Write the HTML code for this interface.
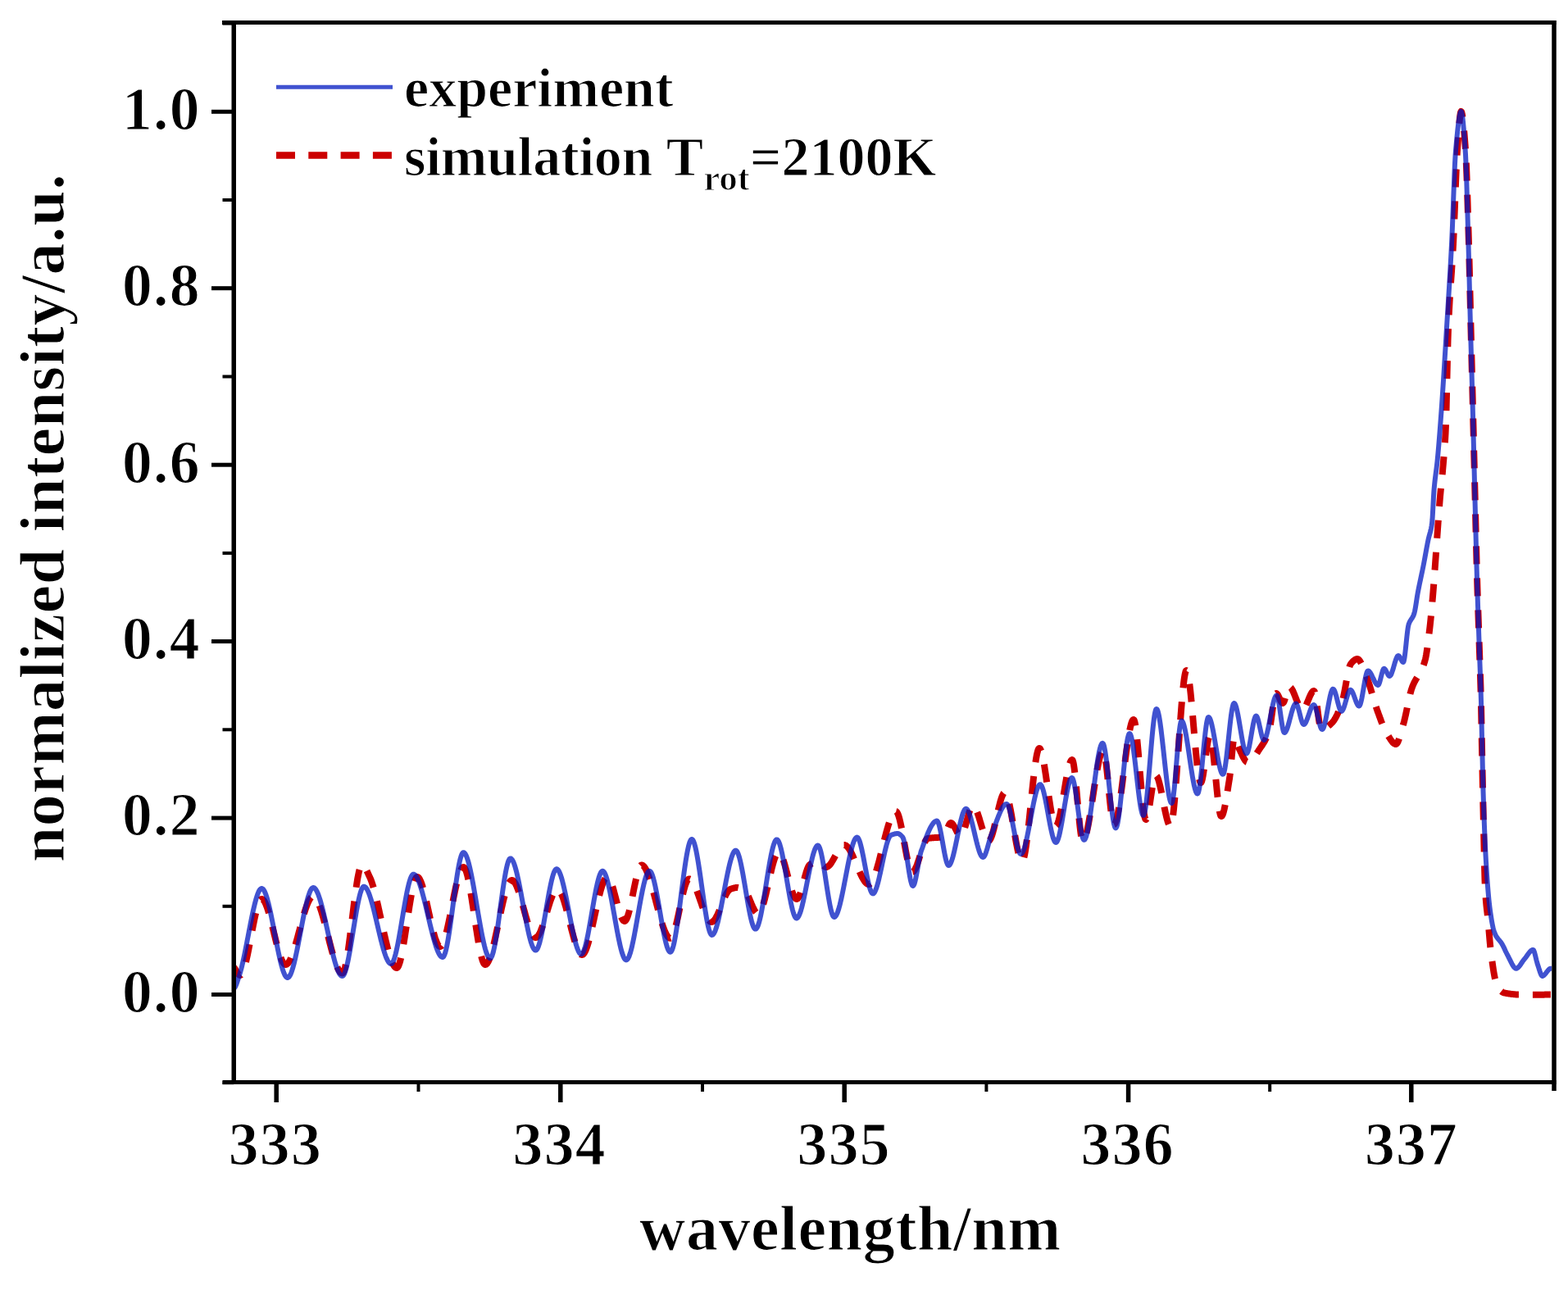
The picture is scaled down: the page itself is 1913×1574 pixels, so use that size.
<!DOCTYPE html>
<html><head><meta charset="utf-8"><title>normalized intensity vs wavelength</title>
<style>
html,body{margin:0;padding:0;background:#fff;}
body{width:1913px;height:1574px;overflow:hidden;}
svg{display:block;}
text{font-family:"Liberation Serif","Times New Roman",serif;font-weight:bold;fill:#000;stroke:#fff;stroke-width:1.2px;}
.tk{font-size:73.5px;letter-spacing:1.3px;}
.lab{font-size:78px;letter-spacing:0.6px;}
.leg{font-size:68px;}
.sub{font-size:45px;}
</style></head>
<body>
<svg width="1913" height="1574" viewBox="0 0 1913 1574">
<defs><clipPath id="pa"><rect x="288" y="30" width="1605" height="1288"/></clipPath></defs>
<g clip-path="url(#pa)" fill="none" stroke-linejoin="round">
<path d="M280.0 1174.0L280.5 1174.6L281.0 1175.2L281.5 1175.8L282.0 1176.4L282.5 1177.0L283.0 1177.6L283.5 1178.2L284.0 1178.8L284.5 1179.4L285.0 1180.0L285.5 1180.6L286.0 1181.3L286.5 1181.9L287.0 1182.7L287.5 1183.5L288.0 1184.3L288.5 1185.1L289.0 1186.0L289.5 1186.8L290.0 1187.5L290.5 1188.2L291.0 1188.8L291.5 1189.3L292.0 1189.7L292.5 1189.9L293.0 1190.0L293.5 1189.9L294.0 1189.6L294.5 1189.1L295.0 1188.5L295.5 1187.6L296.0 1186.6L296.5 1185.5L297.0 1184.2L297.5 1182.8L298.0 1181.2L298.5 1179.5L299.0 1177.7L299.5 1175.8L300.0 1173.7L300.5 1171.6L301.0 1169.4L301.5 1167.1L302.0 1164.8L302.5 1162.4L303.0 1159.9L303.5 1157.4L304.0 1154.8L304.5 1152.2L305.0 1149.6L305.5 1146.9L306.0 1144.3L306.5 1141.6L307.0 1139.0L307.5 1136.4L308.0 1133.8L308.5 1131.2L309.0 1128.6L309.5 1126.1L310.0 1123.7L310.5 1121.3L311.0 1118.9L311.5 1116.7L312.0 1114.5L312.5 1112.4L313.0 1110.5L313.5 1108.6L314.0 1106.8L314.5 1105.2L315.0 1103.6L315.5 1102.3L316.0 1101.0L316.5 1099.9L317.0 1099.0L317.5 1098.2L318.0 1097.7L318.5 1097.3L319.0 1097.0L319.5 1097.0L320.0 1097.1L320.5 1097.4L321.0 1097.8L321.5 1098.3L322.0 1098.9L322.5 1099.7L323.0 1100.5L323.5 1101.5L324.0 1102.6L324.5 1103.7L325.0 1105.0L325.5 1106.3L326.0 1107.7L326.5 1109.2L327.0 1110.8L327.5 1112.4L328.0 1114.1L328.5 1115.8L329.0 1117.6L329.5 1119.5L330.0 1121.4L330.5 1123.3L331.0 1125.2L331.5 1127.2L332.0 1129.2L332.5 1131.3L333.0 1133.3L333.5 1135.4L334.0 1137.4L334.5 1139.5L335.0 1141.5L335.5 1143.5L336.0 1145.6L336.5 1147.6L337.0 1149.5L337.5 1151.5L338.0 1153.4L338.5 1155.3L339.0 1157.1L339.5 1158.9L340.0 1160.6L340.5 1162.3L341.0 1163.9L341.5 1165.4L342.0 1166.9L342.5 1168.3L343.0 1169.6L343.5 1170.8L344.0 1171.9L344.5 1172.9L345.0 1173.8L345.5 1174.6L346.0 1175.3L346.5 1175.9L347.0 1176.4L347.5 1176.7L348.0 1176.9L348.5 1177.0L349.0 1176.9L349.5 1176.8L350.0 1176.5L350.5 1176.1L351.0 1175.7L351.5 1175.1L352.0 1174.5L352.5 1173.7L353.0 1172.9L353.5 1172.0L354.0 1171.0L354.5 1169.9L355.0 1168.8L355.5 1167.6L356.0 1166.3L356.5 1165.0L357.0 1163.6L357.5 1162.2L358.0 1160.7L358.5 1159.2L359.0 1157.6L359.5 1156.0L360.0 1154.3L360.5 1152.6L361.0 1150.9L361.5 1149.1L362.0 1147.3L362.5 1145.5L363.0 1143.7L363.5 1141.9L364.0 1140.0L364.5 1138.1L365.0 1136.3L365.5 1134.4L366.0 1132.6L366.5 1130.7L367.0 1128.8L367.5 1127.0L368.0 1125.2L368.5 1123.4L369.0 1121.6L369.5 1119.8L370.0 1118.1L370.5 1116.4L371.0 1114.7L371.5 1113.1L372.0 1111.5L372.5 1110.0L373.0 1108.5L373.5 1107.1L374.0 1105.7L374.5 1104.4L375.0 1103.1L375.5 1101.9L376.0 1100.8L376.5 1099.7L377.0 1098.7L377.5 1097.8L378.0 1097.0L378.5 1096.2L379.0 1095.6L379.5 1095.0L380.0 1094.6L380.5 1094.2L381.0 1093.9L381.5 1093.8L382.0 1093.7L382.5 1093.8L383.0 1093.9L383.5 1094.2L384.0 1094.6L384.5 1095.0L385.0 1095.6L385.5 1096.2L386.0 1097.0L386.5 1097.8L387.0 1098.7L387.5 1099.7L388.0 1100.8L388.5 1101.9L389.0 1103.2L389.5 1104.4L390.0 1105.8L390.5 1107.2L391.0 1108.7L391.5 1110.2L392.0 1111.7L392.5 1113.4L393.0 1115.0L393.5 1116.7L394.0 1118.5L394.5 1120.3L395.0 1122.1L395.5 1123.9L396.0 1125.8L396.5 1127.7L397.0 1129.6L397.5 1131.6L398.0 1133.5L398.5 1135.5L399.0 1137.4L399.5 1139.4L400.0 1141.4L400.5 1143.4L401.0 1145.3L401.5 1147.3L402.0 1149.3L402.5 1151.2L403.0 1153.1L403.5 1155.0L404.0 1156.9L404.5 1158.7L405.0 1160.6L405.5 1162.4L406.0 1164.1L406.5 1165.8L407.0 1167.5L407.5 1169.1L408.0 1170.7L408.5 1172.2L409.0 1173.7L409.5 1175.1L410.0 1176.5L410.5 1177.8L411.0 1179.0L411.5 1180.2L412.0 1181.3L412.5 1182.3L413.0 1183.2L413.5 1184.1L414.0 1184.8L414.5 1185.5L415.0 1186.1L415.5 1186.6L416.0 1186.9L416.5 1187.2L417.0 1187.4L417.5 1187.5L418.0 1187.4L418.5 1187.0L419.0 1186.2L419.5 1185.2L420.0 1183.8L420.5 1182.2L421.0 1180.3L421.5 1178.2L422.0 1175.9L422.5 1173.3L423.0 1170.5L423.5 1167.6L424.0 1164.4L424.5 1161.1L425.0 1157.7L425.5 1154.1L426.0 1150.4L426.5 1146.6L427.0 1142.8L427.5 1138.8L428.0 1134.8L428.5 1130.7L429.0 1126.6L429.5 1122.5L430.0 1118.4L430.5 1114.3L431.0 1110.2L431.5 1106.1L432.0 1102.1L432.5 1098.2L433.0 1094.3L433.5 1090.6L434.0 1086.9L434.5 1083.4L435.0 1080.0L435.5 1076.8L436.0 1073.7L436.5 1070.8L437.0 1068.2L437.5 1065.7L438.0 1063.4L438.5 1061.4L439.0 1059.6L439.5 1058.1L440.0 1056.9L440.5 1056.0L441.0 1055.3L441.5 1055.0L442.0 1055.0L442.5 1055.2L443.0 1055.5L443.5 1055.9L444.0 1056.4L444.5 1057.1L445.0 1057.8L445.5 1058.6L446.0 1059.5L446.5 1060.4L447.0 1061.4L447.5 1062.4L448.0 1063.5L448.5 1064.6L449.0 1065.7L449.5 1066.8L450.0 1067.9L450.5 1069.0L451.0 1070.0L451.5 1071.1L452.0 1072.2L452.5 1073.5L453.0 1074.8L453.5 1076.2L454.0 1077.7L454.5 1079.2L455.0 1080.8L455.5 1082.5L456.0 1084.2L456.5 1086.0L457.0 1087.9L457.5 1089.8L458.0 1091.8L458.5 1093.8L459.0 1095.8L459.5 1097.9L460.0 1100.0L460.5 1102.2L461.0 1104.3L461.5 1106.5L462.0 1108.8L462.5 1111.0L463.0 1113.3L463.5 1115.6L464.0 1117.9L464.5 1120.2L465.0 1122.5L465.5 1124.8L466.0 1127.1L466.5 1129.4L467.0 1131.7L467.5 1133.9L468.0 1136.2L468.5 1138.4L469.0 1140.7L469.5 1142.8L470.0 1145.0L470.5 1147.1L471.0 1149.2L471.5 1151.3L472.0 1153.3L472.5 1155.3L473.0 1157.2L473.5 1159.1L474.0 1160.9L474.5 1162.7L475.0 1164.4L475.5 1166.0L476.0 1167.6L476.5 1169.1L477.0 1170.5L477.5 1171.9L478.0 1173.2L478.5 1174.3L479.0 1175.4L479.5 1176.5L480.0 1177.4L480.5 1178.2L481.0 1178.9L481.5 1179.5L482.0 1180.1L482.5 1180.5L483.0 1180.8L483.5 1180.9L484.0 1181.0L484.5 1180.9L485.0 1180.5L485.5 1179.8L486.0 1179.0L486.5 1177.9L487.0 1176.6L487.5 1175.1L488.0 1173.4L488.5 1171.5L489.0 1169.5L489.5 1167.2L490.0 1164.9L490.5 1162.4L491.0 1159.8L491.5 1157.0L492.0 1154.2L492.5 1151.2L493.0 1148.2L493.5 1145.1L494.0 1141.9L494.5 1138.7L495.0 1135.4L495.5 1132.1L496.0 1128.8L496.5 1125.5L497.0 1122.2L497.5 1118.9L498.0 1115.6L498.5 1112.3L499.0 1109.1L499.5 1105.9L500.0 1102.8L500.5 1099.8L501.0 1096.8L501.5 1094.0L502.0 1091.2L502.5 1088.6L503.0 1086.1L503.5 1083.8L504.0 1081.5L504.5 1079.5L505.0 1077.6L505.5 1075.9L506.0 1074.4L506.5 1073.1L507.0 1072.0L507.5 1071.2L508.0 1070.5L508.5 1070.1L509.0 1070.0L509.5 1070.1L510.0 1070.3L510.5 1070.7L511.0 1071.2L511.5 1071.9L512.0 1072.7L512.5 1073.7L513.0 1074.7L513.5 1075.9L514.0 1077.2L514.5 1078.6L515.0 1080.0L515.5 1081.6L516.0 1083.3L516.5 1085.0L517.0 1086.9L517.5 1088.7L518.0 1090.7L518.5 1092.7L519.0 1094.8L519.5 1096.9L520.0 1099.0L520.5 1101.2L521.0 1103.5L521.5 1105.7L522.0 1108.0L522.5 1110.2L523.0 1112.5L523.5 1114.8L524.0 1117.0L524.5 1119.3L525.0 1121.5L525.5 1123.8L526.0 1126.0L526.5 1128.1L527.0 1130.2L527.5 1132.3L528.0 1134.3L528.5 1136.3L529.0 1138.1L529.5 1140.0L530.0 1141.7L530.5 1143.4L531.0 1145.0L531.5 1146.4L532.0 1147.8L532.5 1149.1L533.0 1150.3L533.5 1151.3L534.0 1152.3L534.5 1153.1L535.0 1153.8L535.5 1154.3L536.0 1154.7L536.5 1154.9L537.0 1155.0L537.5 1154.9L538.0 1154.6L538.5 1154.2L539.0 1153.6L539.5 1152.9L540.0 1152.0L540.5 1150.9L541.0 1149.8L541.5 1148.5L542.0 1147.0L542.5 1145.5L543.0 1143.8L543.5 1142.1L544.0 1140.2L544.5 1138.3L545.0 1136.2L545.5 1134.1L546.0 1131.9L546.5 1129.7L547.0 1127.4L547.5 1125.0L548.0 1122.6L548.5 1120.2L549.0 1117.7L549.5 1115.2L550.0 1112.6L550.5 1110.1L551.0 1107.5L551.5 1105.0L552.0 1102.4L552.5 1099.9L553.0 1097.3L553.5 1094.8L554.0 1092.3L554.5 1089.9L555.0 1087.5L555.5 1085.1L556.0 1082.8L556.5 1080.6L557.0 1078.4L557.5 1076.3L558.0 1074.3L558.5 1072.4L559.0 1070.6L559.5 1068.8L560.0 1067.2L560.5 1065.7L561.0 1064.3L561.5 1063.0L562.0 1061.8L562.5 1060.8L563.0 1060.0L563.5 1059.2L564.0 1058.7L564.5 1058.3L565.0 1058.1L565.5 1058.0L566.0 1058.2L566.5 1058.6L567.0 1059.2L567.5 1060.1L568.0 1061.2L568.5 1062.5L569.0 1063.9L569.5 1065.6L570.0 1067.4L570.5 1069.4L571.0 1071.6L571.5 1073.9L572.0 1076.3L572.5 1078.9L573.0 1081.6L573.5 1084.4L574.0 1087.3L574.5 1090.3L575.0 1093.3L575.5 1096.4L576.0 1099.6L576.5 1102.9L577.0 1106.2L577.5 1109.5L578.0 1112.8L578.5 1116.2L579.0 1119.5L579.5 1122.9L580.0 1126.2L580.5 1129.5L581.0 1132.8L581.5 1136.0L582.0 1139.2L582.5 1142.3L583.0 1145.3L583.5 1148.3L584.0 1151.2L584.5 1154.0L585.0 1156.6L585.5 1159.2L586.0 1161.6L586.5 1163.8L587.0 1166.0L587.5 1167.9L588.0 1169.7L588.5 1171.4L589.0 1172.8L589.5 1174.0L590.0 1175.1L590.5 1175.9L591.0 1176.5L591.5 1176.9L592.0 1177.0L592.5 1176.9L593.0 1176.7L593.5 1176.4L594.0 1175.9L594.5 1175.3L595.0 1174.5L595.5 1173.7L596.0 1172.7L596.5 1171.6L597.0 1170.4L597.5 1169.1L598.0 1167.8L598.5 1166.3L599.0 1164.7L599.5 1163.1L600.0 1161.3L600.5 1159.5L601.0 1157.7L601.5 1155.7L602.0 1153.7L602.5 1151.7L603.0 1149.6L603.5 1147.4L604.0 1145.2L604.5 1143.0L605.0 1140.7L605.5 1138.4L606.0 1136.1L606.5 1133.8L607.0 1131.4L607.5 1129.1L608.0 1126.7L608.5 1124.3L609.0 1121.9L609.5 1119.6L610.0 1117.2L610.5 1114.9L611.0 1112.6L611.5 1110.3L612.0 1108.0L612.5 1105.8L613.0 1103.6L613.5 1101.4L614.0 1099.3L614.5 1097.3L615.0 1095.3L615.5 1093.3L616.0 1091.5L616.5 1089.7L617.0 1087.9L617.5 1086.3L618.0 1084.7L618.5 1083.2L619.0 1081.9L619.5 1080.6L620.0 1079.4L620.5 1078.3L621.0 1077.3L621.5 1076.5L622.0 1075.7L622.5 1075.1L623.0 1074.6L623.5 1074.3L624.0 1074.1L624.5 1074.0L625.0 1074.1L625.5 1074.2L626.0 1074.5L626.5 1075.0L627.0 1075.5L627.5 1076.1L628.0 1076.8L628.5 1077.6L629.0 1078.5L629.5 1079.5L630.0 1080.6L630.5 1081.7L631.0 1083.0L631.5 1084.3L632.0 1085.6L632.5 1087.0L633.0 1088.5L633.5 1090.0L634.0 1091.6L634.5 1093.2L635.0 1094.9L635.5 1096.6L636.0 1098.3L636.5 1100.0L637.0 1101.8L637.5 1103.6L638.0 1105.4L638.5 1107.2L639.0 1109.0L639.5 1110.8L640.0 1112.6L640.5 1114.4L641.0 1116.2L641.5 1118.0L642.0 1119.7L642.5 1121.4L643.0 1123.1L643.5 1124.8L644.0 1126.4L644.5 1128.0L645.0 1129.5L645.5 1131.0L646.0 1132.4L646.5 1133.7L647.0 1135.0L647.5 1136.3L648.0 1137.4L648.5 1138.5L649.0 1139.5L649.5 1140.4L650.0 1141.2L650.5 1141.9L651.0 1142.5L651.5 1143.0L652.0 1143.5L652.5 1143.8L653.0 1143.9L653.5 1144.0L654.0 1143.9L654.5 1143.8L655.0 1143.5L655.5 1143.0L656.0 1142.5L656.5 1141.9L657.0 1141.2L657.5 1140.4L658.0 1139.5L658.5 1138.5L659.0 1137.4L659.5 1136.3L660.0 1135.1L660.5 1133.8L661.0 1132.5L661.5 1131.1L662.0 1129.7L662.5 1128.2L663.0 1126.7L663.5 1125.1L664.0 1123.6L664.5 1121.9L665.0 1120.3L665.5 1118.7L666.0 1117.0L666.5 1115.3L667.0 1113.7L667.5 1112.0L668.0 1110.3L668.5 1108.7L669.0 1107.1L669.5 1105.4L670.0 1103.9L670.5 1102.3L671.0 1100.8L671.5 1099.3L672.0 1097.9L672.5 1096.5L673.0 1095.2L673.5 1093.9L674.0 1092.7L674.5 1091.6L675.0 1090.5L675.5 1089.5L676.0 1088.6L676.5 1087.8L677.0 1087.1L677.5 1086.5L678.0 1086.0L678.5 1085.5L679.0 1085.2L679.5 1085.1L680.0 1085.0L680.5 1085.1L681.0 1085.3L681.5 1085.6L682.0 1086.0L682.5 1086.6L683.0 1087.2L683.5 1088.0L684.0 1088.9L684.5 1089.9L685.0 1090.9L685.5 1092.1L686.0 1093.3L686.5 1094.6L687.0 1096.0L687.5 1097.5L688.0 1099.0L688.5 1100.6L689.0 1102.3L689.5 1104.0L690.0 1105.7L690.5 1107.5L691.0 1109.4L691.5 1111.3L692.0 1113.2L692.5 1115.1L693.0 1117.0L693.5 1119.0L694.0 1121.0L694.5 1123.0L695.0 1125.0L695.5 1127.0L696.0 1129.0L696.5 1131.0L697.0 1133.0L697.5 1134.9L698.0 1136.8L698.5 1138.7L699.0 1140.6L699.5 1142.5L700.0 1144.3L700.5 1146.0L701.0 1147.7L701.5 1149.4L702.0 1151.0L702.5 1152.5L703.0 1154.0L703.5 1155.4L704.0 1156.7L704.5 1157.9L705.0 1159.1L705.5 1160.1L706.0 1161.1L706.5 1162.0L707.0 1162.8L707.5 1163.4L708.0 1164.0L708.5 1164.4L709.0 1164.7L709.5 1164.9L710.0 1165.0L710.5 1164.9L711.0 1164.7L711.5 1164.4L712.0 1163.9L712.5 1163.2L713.0 1162.5L713.5 1161.6L714.0 1160.7L714.5 1159.6L715.0 1158.4L715.5 1157.1L716.0 1155.7L716.5 1154.2L717.0 1152.7L717.5 1151.0L718.0 1149.3L718.5 1147.5L719.0 1145.6L719.5 1143.7L720.0 1141.7L720.5 1139.7L721.0 1137.6L721.5 1135.5L722.0 1133.3L722.5 1131.1L723.0 1128.9L723.5 1126.6L724.0 1124.4L724.5 1122.1L725.0 1119.8L725.5 1117.5L726.0 1115.2L726.5 1112.9L727.0 1110.6L727.5 1108.4L728.0 1106.1L728.5 1103.9L729.0 1101.7L729.5 1099.5L730.0 1097.4L730.5 1095.3L731.0 1093.3L731.5 1091.3L732.0 1089.4L732.5 1087.5L733.0 1085.7L733.5 1084.0L734.0 1082.3L734.5 1080.8L735.0 1079.3L735.5 1077.9L736.0 1076.6L736.5 1075.4L737.0 1074.3L737.5 1073.4L738.0 1072.5L738.5 1071.8L739.0 1071.1L739.5 1070.6L740.0 1070.3L740.5 1070.1L741.0 1070.0L741.5 1070.1L742.0 1070.4L742.5 1070.8L743.0 1071.4L743.5 1072.1L744.0 1073.0L744.5 1074.0L745.0 1075.1L745.5 1076.4L746.0 1077.7L746.5 1079.2L747.0 1080.7L747.5 1082.3L748.0 1084.0L748.5 1085.7L749.0 1087.5L749.5 1089.4L750.0 1091.3L750.5 1093.2L751.0 1095.1L751.5 1097.0L752.0 1098.9L752.5 1100.8L753.0 1102.7L753.5 1104.6L754.0 1106.5L754.5 1108.3L755.0 1110.0L755.5 1111.7L756.0 1113.3L756.5 1114.8L757.0 1116.3L757.5 1117.6L758.0 1118.9L758.5 1120.0L759.0 1121.0L759.5 1121.9L760.0 1122.6L760.5 1123.2L761.0 1123.6L761.5 1123.9L762.0 1124.0L762.5 1123.9L763.0 1123.5L763.5 1123.0L764.0 1122.2L764.5 1121.3L765.0 1120.1L765.5 1118.8L766.0 1117.4L766.5 1115.8L767.0 1114.0L767.5 1112.2L768.0 1110.2L768.5 1108.1L769.0 1105.9L769.5 1103.7L770.0 1101.4L770.5 1099.0L771.0 1096.6L771.5 1094.2L772.0 1091.7L772.5 1089.3L773.0 1086.8L773.5 1084.3L774.0 1081.9L774.5 1079.5L775.0 1077.2L775.5 1074.9L776.0 1072.7L776.5 1070.5L777.0 1068.5L777.5 1066.6L778.0 1064.8L778.5 1063.1L779.0 1061.5L779.5 1060.1L780.0 1058.9L780.5 1057.8L781.0 1057.0L781.5 1056.3L782.0 1055.8L782.5 1055.5L783.0 1055.5L783.5 1055.6L784.0 1055.8L784.5 1056.1L785.0 1056.5L785.5 1057.0L786.0 1057.6L786.5 1058.3L787.0 1059.0L787.5 1059.9L788.0 1060.8L788.5 1061.8L789.0 1062.9L789.5 1064.1L790.0 1065.3L790.5 1066.6L791.0 1067.9L791.5 1069.3L792.0 1070.8L792.5 1072.3L793.0 1073.8L793.5 1075.4L794.0 1077.1L794.5 1078.8L795.0 1080.5L795.5 1082.2L796.0 1084.0L796.5 1085.8L797.0 1087.7L797.5 1089.5L798.0 1091.4L798.5 1093.3L799.0 1095.2L799.5 1097.1L800.0 1099.0L800.5 1100.9L801.0 1102.8L801.5 1104.7L802.0 1106.6L802.5 1108.5L803.0 1110.4L803.5 1112.3L804.0 1114.1L804.5 1115.9L805.0 1117.7L805.5 1119.5L806.0 1121.2L806.5 1122.9L807.0 1124.5L807.5 1126.2L808.0 1127.7L808.5 1129.2L809.0 1130.7L809.5 1132.1L810.0 1133.5L810.5 1134.8L811.0 1136.0L811.5 1137.2L812.0 1138.3L812.5 1139.3L813.0 1140.2L813.5 1141.1L814.0 1141.9L814.5 1142.6L815.0 1143.2L815.5 1143.7L816.0 1144.1L816.5 1144.4L817.0 1144.7L817.5 1144.8L818.0 1144.8L818.5 1144.6L819.0 1144.2L819.5 1143.7L820.0 1142.9L820.5 1142.0L821.0 1141.0L821.5 1139.7L822.0 1138.4L822.5 1136.9L823.0 1135.3L823.5 1133.6L824.0 1131.8L824.5 1129.8L825.0 1127.8L825.5 1125.7L826.0 1123.6L826.5 1121.4L827.0 1119.1L827.5 1116.8L828.0 1114.5L828.5 1112.2L829.0 1109.8L829.5 1107.4L830.0 1105.0L830.5 1102.7L831.0 1100.4L831.5 1098.1L832.0 1095.8L832.5 1093.6L833.0 1091.5L833.5 1089.4L834.0 1087.4L834.5 1085.4L835.0 1083.6L835.5 1081.9L836.0 1080.3L836.5 1078.8L837.0 1077.5L837.5 1076.2L838.0 1075.2L838.5 1074.3L839.0 1073.5L839.5 1073.0L840.0 1072.6L840.5 1072.4L841.0 1072.4L841.5 1072.5L842.0 1072.7L842.5 1073.1L843.0 1073.5L843.5 1073.9L844.0 1074.5L844.5 1075.2L845.0 1075.9L845.5 1076.7L846.0 1077.6L846.5 1078.5L847.0 1079.5L847.5 1080.6L848.0 1081.7L848.5 1082.8L849.0 1084.0L849.5 1085.3L850.0 1086.6L850.5 1087.9L851.0 1089.2L851.5 1090.6L852.0 1092.0L852.5 1093.4L853.0 1094.8L853.5 1096.2L854.0 1097.7L854.5 1099.1L855.0 1100.6L855.5 1102.0L856.0 1103.4L856.5 1104.9L857.0 1106.3L857.5 1107.6L858.0 1109.0L858.5 1110.3L859.0 1111.6L859.5 1112.9L860.0 1114.1L860.5 1115.3L861.0 1116.4L861.5 1117.5L862.0 1118.5L862.5 1119.5L863.0 1120.4L863.5 1121.2L864.0 1121.9L864.5 1122.6L865.0 1123.2L865.5 1123.8L866.0 1124.2L866.5 1124.5L867.0 1124.8L867.5 1124.9L868.0 1125.0L868.5 1124.9L869.0 1124.8L869.5 1124.5L870.0 1124.2L870.5 1123.8L871.0 1123.3L871.5 1122.7L872.0 1122.0L872.5 1121.3L873.0 1120.5L873.5 1119.6L874.0 1118.7L874.5 1117.7L875.0 1116.7L875.5 1115.7L876.0 1114.6L876.5 1113.4L877.0 1112.3L877.5 1111.1L878.0 1109.8L878.5 1108.6L879.0 1107.4L879.5 1106.1L880.0 1104.9L880.5 1103.6L881.0 1102.4L881.5 1101.1L882.0 1099.9L882.5 1098.7L883.0 1097.5L883.5 1096.3L884.0 1095.2L884.5 1094.1L885.0 1093.0L885.5 1092.0L886.0 1091.0L886.5 1090.1L887.0 1089.3L887.5 1088.5L888.0 1087.7L888.5 1087.1L889.0 1086.5L889.5 1086.0L890.0 1085.6L890.5 1085.2L891.0 1085.0L891.5 1084.8L892.0 1084.6L892.5 1084.4L893.0 1084.2L893.5 1084.1L894.0 1083.9L894.5 1083.8L895.0 1083.6L895.5 1083.5L896.0 1083.4L896.5 1083.3L897.0 1083.2L897.5 1083.1L898.0 1083.0L898.5 1083.0L899.0 1083.0L899.5 1083.0L900.0 1083.0L900.5 1083.1L901.0 1083.2L901.5 1083.3L902.0 1083.4L902.5 1083.5L903.0 1083.6L903.5 1083.7L904.0 1083.9L904.5 1084.1L905.0 1084.2L905.5 1084.4L906.0 1084.6L906.5 1084.8L907.0 1085.0L907.5 1085.3L908.0 1085.6L908.5 1086.1L909.0 1086.7L909.5 1087.3L910.0 1088.0L910.5 1088.9L911.0 1089.7L911.5 1090.7L912.0 1091.7L912.5 1092.7L913.0 1093.8L913.5 1095.0L914.0 1096.1L914.5 1097.3L915.0 1098.5L915.5 1099.7L916.0 1100.9L916.5 1102.1L917.0 1103.3L917.5 1104.4L918.0 1105.6L918.5 1106.7L919.0 1107.8L919.5 1108.8L920.0 1109.7L920.5 1110.6L921.0 1111.5L921.5 1112.3L922.0 1112.9L922.5 1113.5L923.0 1114.0L923.5 1114.5L924.0 1114.8L924.5 1114.9L925.0 1115.0L925.5 1114.9L926.0 1114.6L926.5 1114.2L927.0 1113.6L927.5 1112.9L928.0 1112.0L928.5 1111.0L929.0 1109.9L929.5 1108.6L930.0 1107.2L930.5 1105.7L931.0 1104.1L931.5 1102.4L932.0 1100.7L932.5 1098.8L933.0 1096.9L933.5 1094.9L934.0 1092.8L934.5 1090.7L935.0 1088.6L935.5 1086.4L936.0 1084.2L936.5 1082.0L937.0 1079.7L937.5 1077.5L938.0 1075.3L938.5 1073.0L939.0 1070.8L939.5 1068.6L940.0 1066.4L940.5 1064.3L941.0 1062.2L941.5 1060.1L942.0 1058.1L942.5 1056.2L943.0 1054.3L943.5 1052.6L944.0 1050.9L944.5 1049.3L945.0 1047.8L945.5 1046.4L946.0 1045.1L946.5 1044.0L947.0 1043.0L947.5 1042.1L948.0 1041.4L948.5 1040.8L949.0 1040.4L949.5 1040.1L950.0 1040.0L950.5 1040.1L951.0 1040.3L951.5 1040.8L952.0 1041.3L952.5 1042.0L953.0 1042.9L953.5 1043.9L954.0 1045.0L954.5 1046.2L955.0 1047.5L955.5 1048.9L956.0 1050.4L956.5 1052.0L957.0 1053.6L957.5 1055.4L958.0 1057.1L958.5 1059.0L959.0 1060.8L959.5 1062.7L960.0 1064.6L960.5 1066.6L961.0 1068.5L961.5 1070.4L962.0 1072.4L962.5 1074.3L963.0 1076.2L963.5 1078.0L964.0 1079.9L964.5 1081.6L965.0 1083.4L965.5 1085.0L966.0 1086.6L966.5 1088.1L967.0 1089.5L967.5 1090.8L968.0 1092.0L968.5 1093.1L969.0 1094.1L969.5 1095.0L970.0 1095.7L970.5 1096.2L971.0 1096.7L971.5 1096.9L972.0 1097.0L972.5 1096.9L973.0 1096.6L973.5 1096.0L974.0 1095.3L974.5 1094.5L975.0 1093.4L975.5 1092.2L976.0 1090.9L976.5 1089.5L977.0 1088.0L977.5 1086.3L978.0 1084.6L978.5 1082.9L979.0 1081.0L979.5 1079.2L980.0 1077.3L980.5 1075.4L981.0 1073.5L981.5 1071.7L982.0 1069.8L982.5 1068.0L983.0 1066.3L983.5 1064.6L984.0 1063.0L984.5 1061.6L985.0 1060.2L985.5 1058.9L986.0 1057.8L986.5 1056.8L987.0 1056.0L987.5 1055.4L988.0 1055.0L988.5 1054.7L989.0 1054.4L989.5 1054.0L990.0 1053.7L990.5 1053.5L991.0 1053.2L991.5 1052.9L992.0 1052.6L992.5 1052.4L993.0 1052.2L993.5 1052.0L994.0 1051.8L994.5 1051.6L995.0 1051.5L995.5 1051.3L996.0 1051.2L996.5 1051.1L997.0 1051.1L997.5 1051.0L998.0 1051.0L998.5 1051.1L999.0 1051.2L999.5 1051.4L1000.0 1051.7L1000.5 1052.1L1001.0 1052.5L1001.5 1053.0L1002.0 1053.5L1002.5 1054.0L1003.0 1054.5L1003.5 1055.0L1004.0 1055.5L1004.5 1056.0L1005.0 1056.5L1005.5 1056.9L1006.0 1057.3L1006.5 1057.6L1007.0 1057.8L1007.5 1057.9L1008.0 1058.0L1008.5 1058.0L1009.0 1057.8L1009.5 1057.6L1010.0 1057.4L1010.5 1057.0L1011.0 1056.6L1011.5 1056.2L1012.0 1055.6L1012.5 1055.1L1013.0 1054.5L1013.5 1053.8L1014.0 1053.1L1014.5 1052.3L1015.0 1051.5L1015.5 1050.7L1016.0 1049.9L1016.5 1049.0L1017.0 1048.1L1017.5 1047.2L1018.0 1046.3L1018.5 1045.4L1019.0 1044.5L1019.5 1043.6L1020.0 1042.7L1020.5 1041.8L1021.0 1040.9L1021.5 1040.0L1022.0 1039.1L1022.5 1038.3L1023.0 1037.5L1023.5 1036.7L1024.0 1035.9L1024.5 1035.2L1025.0 1034.5L1025.5 1033.9L1026.0 1033.4L1026.5 1032.8L1027.0 1032.4L1027.5 1032.0L1028.0 1031.6L1028.5 1031.4L1029.0 1031.2L1029.5 1031.0L1030.0 1031.0L1030.5 1031.0L1031.0 1031.2L1031.5 1031.3L1032.0 1031.6L1032.5 1031.9L1033.0 1032.3L1033.5 1032.8L1034.0 1033.3L1034.5 1033.9L1035.0 1034.6L1035.5 1035.2L1036.0 1036.0L1036.5 1036.8L1037.0 1037.6L1037.5 1038.5L1038.0 1039.4L1038.5 1040.4L1039.0 1041.4L1039.5 1042.4L1040.0 1043.4L1040.5 1044.5L1041.0 1045.6L1041.5 1046.8L1042.0 1047.9L1042.5 1049.1L1043.0 1050.2L1043.5 1051.4L1044.0 1052.6L1044.5 1053.8L1045.0 1055.0L1045.5 1056.2L1046.0 1057.4L1046.5 1058.6L1047.0 1059.8L1047.5 1060.9L1048.0 1062.1L1048.5 1063.2L1049.0 1064.4L1049.5 1065.5L1050.0 1066.6L1050.5 1067.6L1051.0 1068.6L1051.5 1069.6L1052.0 1070.6L1052.5 1071.5L1053.0 1072.4L1053.5 1073.2L1054.0 1074.0L1054.5 1074.8L1055.0 1075.4L1055.5 1076.1L1056.0 1076.7L1056.5 1077.2L1057.0 1077.7L1057.5 1078.1L1058.0 1078.4L1058.5 1078.7L1059.0 1078.8L1059.5 1079.0L1060.0 1079.0L1060.5 1078.9L1061.0 1078.8L1061.5 1078.5L1062.0 1078.1L1062.5 1077.5L1063.0 1076.9L1063.5 1076.2L1064.0 1075.4L1064.5 1074.5L1065.0 1073.5L1065.5 1072.4L1066.0 1071.2L1066.5 1070.0L1067.0 1068.7L1067.5 1067.3L1068.0 1065.8L1068.5 1064.3L1069.0 1062.8L1069.5 1061.1L1070.0 1059.4L1070.5 1057.7L1071.0 1055.9L1071.5 1054.1L1072.0 1052.3L1072.5 1050.4L1073.0 1048.4L1073.5 1046.5L1074.0 1044.5L1074.5 1042.6L1075.0 1040.6L1075.5 1038.5L1076.0 1036.5L1076.5 1034.5L1077.0 1032.5L1077.5 1030.5L1078.0 1028.4L1078.5 1026.4L1079.0 1024.5L1079.5 1022.5L1080.0 1020.6L1080.5 1018.6L1081.0 1016.7L1081.5 1014.9L1082.0 1013.1L1082.5 1011.3L1083.0 1009.6L1083.5 1007.9L1084.0 1006.2L1084.5 1004.7L1085.0 1003.2L1085.5 1001.7L1086.0 1000.3L1086.5 999.0L1087.0 997.8L1087.5 996.6L1088.0 995.5L1088.5 994.5L1089.0 993.6L1089.5 992.8L1090.0 992.1L1090.5 991.5L1091.0 990.9L1091.5 990.5L1092.0 990.2L1092.5 990.1L1093.0 990.0L1093.5 990.1L1094.0 990.5L1094.5 991.2L1095.0 992.1L1095.5 993.2L1096.0 994.5L1096.5 996.0L1097.0 997.7L1097.5 999.6L1098.0 1001.6L1098.5 1003.7L1099.0 1006.0L1099.5 1008.4L1100.0 1010.8L1100.5 1013.4L1101.0 1016.0L1101.5 1018.7L1102.0 1021.5L1102.5 1024.2L1103.0 1027.0L1103.5 1029.8L1104.0 1032.5L1104.5 1035.3L1105.0 1038.0L1105.5 1040.6L1106.0 1043.2L1106.5 1045.6L1107.0 1048.0L1107.5 1050.3L1108.0 1052.4L1108.5 1054.4L1109.0 1056.3L1109.5 1058.0L1110.0 1059.5L1110.5 1060.8L1111.0 1061.9L1111.5 1062.8L1112.0 1063.5L1112.5 1063.9L1113.0 1064.0L1113.5 1063.9L1114.0 1063.7L1114.5 1063.3L1115.0 1062.8L1115.5 1062.1L1116.0 1061.3L1116.5 1060.4L1117.0 1059.4L1117.5 1058.4L1118.0 1057.2L1118.5 1055.9L1119.0 1054.6L1119.5 1053.2L1120.0 1051.7L1120.5 1050.2L1121.0 1048.7L1121.5 1047.1L1122.0 1045.6L1122.5 1044.0L1123.0 1042.4L1123.5 1040.8L1124.0 1039.2L1124.5 1037.7L1125.0 1036.2L1125.5 1034.7L1126.0 1033.2L1126.5 1031.9L1127.0 1030.6L1127.5 1029.3L1128.0 1028.2L1128.5 1027.1L1129.0 1026.2L1129.5 1025.3L1130.0 1024.6L1130.5 1024.0L1131.0 1023.5L1131.5 1023.2L1132.0 1023.0L1132.5 1022.9L1133.0 1022.8L1133.5 1022.7L1134.0 1022.7L1134.5 1022.6L1135.0 1022.5L1135.5 1022.5L1136.0 1022.4L1136.5 1022.4L1137.0 1022.3L1137.5 1022.3L1138.0 1022.3L1138.5 1022.2L1139.0 1022.2L1139.5 1022.2L1140.0 1022.1L1140.5 1022.1L1141.0 1022.1L1141.5 1022.1L1142.0 1022.0L1142.5 1022.0L1143.0 1022.0L1143.5 1021.9L1144.0 1021.9L1144.5 1021.9L1145.0 1021.8L1145.5 1021.8L1146.0 1021.8L1146.5 1021.7L1147.0 1021.7L1147.5 1021.6L1148.0 1021.5L1148.5 1021.5L1149.0 1021.4L1149.5 1021.3L1150.0 1021.2L1150.5 1021.1L1151.0 1021.0L1151.5 1020.7L1152.0 1020.2L1152.5 1019.5L1153.0 1018.6L1153.5 1017.5L1154.0 1016.3L1154.5 1015.0L1155.0 1013.6L1155.5 1012.2L1156.0 1010.9L1156.5 1009.5L1157.0 1008.3L1157.5 1007.1L1158.0 1006.1L1158.5 1005.2L1159.0 1004.6L1159.5 1004.1L1160.0 1004.0L1160.5 1004.1L1161.0 1004.3L1161.5 1004.7L1162.0 1005.2L1162.5 1005.8L1163.0 1006.5L1163.5 1007.3L1164.0 1008.1L1164.5 1009.1L1165.0 1010.0L1165.5 1011.0L1166.0 1012.0L1166.5 1013.0L1167.0 1014.0L1167.5 1014.9L1168.0 1015.9L1168.5 1016.7L1169.0 1017.5L1169.5 1018.2L1170.0 1018.8L1170.5 1019.3L1171.0 1019.7L1171.5 1019.9L1172.0 1020.0L1172.5 1019.9L1173.0 1019.5L1173.5 1019.0L1174.0 1018.2L1174.5 1017.3L1175.0 1016.2L1175.5 1014.9L1176.0 1013.5L1176.5 1012.0L1177.0 1010.4L1177.5 1008.7L1178.0 1007.0L1178.5 1005.2L1179.0 1003.3L1179.5 1001.5L1180.0 999.7L1180.5 997.8L1181.0 996.0L1181.5 994.3L1182.0 992.6L1182.5 991.0L1183.0 989.5L1183.5 988.1L1184.0 986.8L1184.5 985.7L1185.0 984.8L1185.5 984.0L1186.0 983.5L1186.5 983.1L1187.0 983.0L1187.5 983.1L1188.0 983.3L1188.5 983.8L1189.0 984.3L1189.5 985.0L1190.0 985.9L1190.5 986.8L1191.0 987.9L1191.5 989.1L1192.0 990.4L1192.5 991.7L1193.0 993.2L1193.5 994.7L1194.0 996.2L1194.5 997.8L1195.0 999.5L1195.5 1001.1L1196.0 1002.8L1196.5 1004.5L1197.0 1006.2L1197.5 1007.9L1198.0 1009.5L1198.5 1011.2L1199.0 1012.8L1199.5 1014.3L1200.0 1015.8L1200.5 1017.3L1201.0 1018.6L1201.5 1019.9L1202.0 1021.1L1202.5 1022.2L1203.0 1023.1L1203.5 1024.0L1204.0 1024.7L1204.5 1025.2L1205.0 1025.7L1205.5 1025.9L1206.0 1026.0L1206.5 1025.9L1207.0 1025.6L1207.5 1025.1L1208.0 1024.3L1208.5 1023.5L1209.0 1022.4L1209.5 1021.2L1210.0 1019.9L1210.5 1018.4L1211.0 1016.8L1211.5 1015.1L1212.0 1013.3L1212.5 1011.4L1213.0 1009.4L1213.5 1007.3L1214.0 1005.2L1214.5 1003.1L1215.0 1000.9L1215.5 998.7L1216.0 996.5L1216.5 994.3L1217.0 992.1L1217.5 989.9L1218.0 987.8L1218.5 985.7L1219.0 983.6L1219.5 981.6L1220.0 979.7L1220.5 977.9L1221.0 976.2L1221.5 974.6L1222.0 973.1L1222.5 971.8L1223.0 970.6L1223.5 969.5L1224.0 968.7L1224.5 967.9L1225.0 967.4L1225.5 967.1L1226.0 967.0L1226.5 967.1L1227.0 967.6L1227.5 968.2L1228.0 969.1L1228.5 970.3L1229.0 971.7L1229.5 973.2L1230.0 975.0L1230.5 976.9L1231.0 979.0L1231.5 981.3L1232.0 983.7L1232.5 986.2L1233.0 988.8L1233.5 991.5L1234.0 994.3L1234.5 997.1L1235.0 1000.1L1235.5 1003.0L1236.0 1006.0L1236.5 1009.0L1237.0 1012.0L1237.5 1015.0L1238.0 1017.9L1238.5 1020.9L1239.0 1023.7L1239.5 1026.5L1240.0 1029.2L1240.5 1031.8L1241.0 1034.3L1241.5 1036.7L1242.0 1039.0L1242.5 1041.1L1243.0 1043.0L1243.5 1044.8L1244.0 1046.3L1244.5 1047.7L1245.0 1048.9L1245.5 1049.8L1246.0 1050.4L1246.5 1050.9L1247.0 1051.0L1247.5 1050.8L1248.0 1050.1L1248.5 1049.0L1249.0 1047.5L1249.5 1045.6L1250.0 1043.4L1250.5 1040.8L1251.0 1037.9L1251.5 1034.7L1252.0 1031.3L1252.5 1027.6L1253.0 1023.6L1253.5 1019.5L1254.0 1015.2L1254.5 1010.8L1255.0 1006.2L1255.5 1001.5L1256.0 996.7L1256.5 991.8L1257.0 986.9L1257.5 982.0L1258.0 977.1L1258.5 972.2L1259.0 967.3L1259.5 962.5L1260.0 957.8L1260.5 953.2L1261.0 948.8L1261.5 944.5L1262.0 940.4L1262.5 936.4L1263.0 932.7L1263.5 929.3L1264.0 926.1L1264.5 923.2L1265.0 920.6L1265.5 918.4L1266.0 916.5L1266.5 915.0L1267.0 913.9L1267.5 913.2L1268.0 913.0L1268.5 913.2L1269.0 913.7L1269.5 914.5L1270.0 915.7L1270.5 917.1L1271.0 918.8L1271.5 920.7L1272.0 922.9L1272.5 925.3L1273.0 927.8L1273.5 930.6L1274.0 933.5L1274.5 936.6L1275.0 939.8L1275.5 943.1L1276.0 946.4L1276.5 949.9L1277.0 953.4L1277.5 956.9L1278.0 960.5L1278.5 964.1L1279.0 967.6L1279.5 971.1L1280.0 974.6L1280.5 977.9L1281.0 981.2L1281.5 984.4L1282.0 987.5L1282.5 990.4L1283.0 993.2L1283.5 995.7L1284.0 998.1L1284.5 1000.3L1285.0 1002.2L1285.5 1003.9L1286.0 1005.3L1286.5 1006.5L1287.0 1007.3L1287.5 1007.8L1288.0 1008.0L1288.5 1007.9L1289.0 1007.4L1289.5 1006.7L1290.0 1005.7L1290.5 1004.5L1291.0 1003.1L1291.5 1001.4L1292.0 999.6L1292.5 997.5L1293.0 995.3L1293.5 993.0L1294.0 990.5L1294.5 987.9L1295.0 985.2L1295.5 982.4L1296.0 979.5L1296.5 976.5L1297.0 973.6L1297.5 970.5L1298.0 967.5L1298.5 964.5L1299.0 961.4L1299.5 958.5L1300.0 955.5L1300.5 952.6L1301.0 949.8L1301.5 947.1L1302.0 944.5L1302.5 942.0L1303.0 939.7L1303.5 937.5L1304.0 935.4L1304.5 933.6L1305.0 931.9L1305.5 930.5L1306.0 929.3L1306.5 928.3L1307.0 927.6L1307.5 927.1L1308.0 927.0L1308.5 927.4L1309.0 928.7L1309.5 930.6L1310.0 933.3L1310.5 936.6L1311.0 940.4L1311.5 944.7L1312.0 949.4L1312.5 954.4L1313.0 959.7L1313.5 965.2L1314.0 970.8L1314.5 976.5L1315.0 982.2L1315.5 987.8L1316.0 993.3L1316.5 998.6L1317.0 1003.6L1317.5 1008.3L1318.0 1012.6L1318.5 1016.4L1319.0 1019.7L1319.5 1022.4L1320.0 1024.3L1320.5 1025.6L1321.0 1026.0L1321.5 1025.9L1322.0 1025.5L1322.5 1024.9L1323.0 1024.0L1323.5 1022.9L1324.0 1021.6L1324.5 1020.1L1325.0 1018.5L1325.5 1016.6L1326.0 1014.6L1326.5 1012.4L1327.0 1010.0L1327.5 1007.6L1328.0 1005.0L1328.5 1002.2L1329.0 999.4L1329.5 996.5L1330.0 993.5L1330.5 990.4L1331.0 987.3L1331.5 984.1L1332.0 980.9L1332.5 977.6L1333.0 974.3L1333.5 971.0L1334.0 967.7L1334.5 964.4L1335.0 961.1L1335.5 957.9L1336.0 954.7L1336.5 951.6L1337.0 948.5L1337.5 945.5L1338.0 942.6L1338.5 939.8L1339.0 937.0L1339.5 934.4L1340.0 932.0L1340.5 929.6L1341.0 927.4L1341.5 925.4L1342.0 923.5L1342.5 921.9L1343.0 920.4L1343.5 919.1L1344.0 918.0L1344.5 917.1L1345.0 916.5L1345.5 916.1L1346.0 916.0L1346.5 916.4L1347.0 917.5L1347.5 919.3L1348.0 921.7L1348.5 924.7L1349.0 928.2L1349.5 932.1L1350.0 936.3L1350.5 940.9L1351.0 945.7L1351.5 950.7L1352.0 955.8L1352.5 961.0L1353.0 966.2L1353.5 971.3L1354.0 976.3L1354.5 981.1L1355.0 985.7L1355.5 989.9L1356.0 993.8L1356.5 997.3L1357.0 1000.3L1357.5 1002.7L1358.0 1004.5L1358.5 1005.6L1359.0 1006.0L1359.5 1005.8L1360.0 1005.4L1360.5 1004.6L1361.0 1003.5L1361.5 1002.1L1362.0 1000.5L1362.5 998.6L1363.0 996.5L1363.5 994.2L1364.0 991.6L1364.5 988.9L1365.0 986.0L1365.5 982.9L1366.0 979.7L1366.5 976.3L1367.0 972.8L1367.5 969.2L1368.0 965.5L1368.5 961.7L1369.0 957.9L1369.5 953.9L1370.0 950.0L1370.5 946.0L1371.0 942.0L1371.5 938.0L1372.0 934.0L1372.5 930.1L1373.0 926.1L1373.5 922.3L1374.0 918.5L1374.5 914.8L1375.0 911.2L1375.5 907.7L1376.0 904.3L1376.5 901.1L1377.0 898.0L1377.5 895.1L1378.0 892.4L1378.5 889.8L1379.0 887.5L1379.5 885.4L1380.0 883.5L1380.5 881.9L1381.0 880.5L1381.5 879.4L1382.0 878.6L1382.5 878.2L1383.0 878.0L1383.5 878.4L1384.0 879.6L1384.5 881.4L1385.0 883.9L1385.5 887.0L1386.0 890.7L1386.5 894.8L1387.0 899.4L1387.5 904.4L1388.0 909.6L1388.5 915.2L1389.0 920.9L1389.5 926.9L1390.0 932.9L1390.5 939.0L1391.0 945.1L1391.5 951.1L1392.0 957.1L1392.5 962.8L1393.0 968.4L1393.5 973.6L1394.0 978.6L1394.5 983.2L1395.0 987.3L1395.5 991.0L1396.0 994.1L1396.5 996.6L1397.0 998.4L1397.5 999.6L1398.0 1000.0L1398.5 999.7L1399.0 998.9L1399.5 997.7L1400.0 996.0L1400.5 993.9L1401.0 991.6L1401.5 988.9L1402.0 986.0L1402.5 982.9L1403.0 979.7L1403.5 976.4L1404.0 973.0L1404.5 969.6L1405.0 966.3L1405.5 963.1L1406.0 960.0L1406.5 957.1L1407.0 954.4L1407.5 952.1L1408.0 950.0L1408.5 948.3L1409.0 947.1L1409.5 946.3L1410.0 946.0L1410.5 946.1L1411.0 946.6L1411.5 947.2L1412.0 948.1L1412.5 949.3L1413.0 950.6L1413.5 952.1L1414.0 953.8L1414.5 955.7L1415.0 957.7L1415.5 959.8L1416.0 962.1L1416.5 964.4L1417.0 966.8L1417.5 969.3L1418.0 971.9L1418.5 974.4L1419.0 977.0L1419.5 979.6L1420.0 982.1L1420.5 984.7L1421.0 987.2L1421.5 989.6L1422.0 991.9L1422.5 994.2L1423.0 996.3L1423.5 998.3L1424.0 1000.2L1424.5 1001.9L1425.0 1003.4L1425.5 1004.7L1426.0 1005.9L1426.5 1006.8L1427.0 1007.4L1427.5 1007.9L1428.0 1008.0L1428.5 1007.6L1429.0 1006.6L1429.5 1004.8L1430.0 1002.4L1430.5 999.4L1431.0 995.9L1431.5 991.8L1432.0 987.3L1432.5 982.3L1433.0 976.9L1433.5 971.2L1434.0 965.1L1434.5 958.7L1435.0 952.1L1435.5 945.3L1436.0 938.3L1436.5 931.2L1437.0 923.9L1437.5 916.7L1438.0 909.3L1438.5 902.1L1439.0 894.8L1439.5 887.7L1440.0 880.7L1440.5 873.9L1441.0 867.3L1441.5 860.9L1442.0 854.8L1442.5 849.1L1443.0 843.7L1443.5 838.7L1444.0 834.2L1444.5 830.1L1445.0 826.6L1445.5 823.6L1446.0 821.2L1446.5 819.4L1447.0 818.4L1447.5 818.0L1448.0 818.3L1448.5 819.3L1449.0 820.8L1449.5 823.0L1450.0 825.6L1450.5 828.7L1451.0 832.2L1451.5 836.2L1452.0 840.5L1452.5 845.2L1453.0 850.1L1453.5 855.3L1454.0 860.7L1454.5 866.2L1455.0 871.9L1455.5 877.7L1456.0 883.6L1456.5 889.4L1457.0 895.3L1457.5 901.1L1458.0 906.8L1458.5 912.3L1459.0 917.7L1459.5 922.9L1460.0 927.8L1460.5 932.5L1461.0 936.8L1461.5 940.8L1462.0 944.3L1462.5 947.4L1463.0 950.0L1463.5 952.2L1464.0 953.7L1464.5 954.7L1465.0 955.0L1465.5 954.7L1466.0 953.7L1466.5 952.1L1467.0 950.0L1467.5 947.5L1468.0 944.6L1468.5 941.4L1469.0 937.9L1469.5 934.2L1470.0 930.4L1470.5 926.5L1471.0 922.6L1471.5 918.8L1472.0 915.1L1472.5 911.6L1473.0 908.4L1473.5 905.5L1474.0 903.0L1474.5 900.9L1475.0 899.3L1475.5 898.3L1476.0 898.0L1476.5 898.4L1477.0 899.4L1477.5 901.1L1478.0 903.4L1478.5 906.3L1479.0 909.6L1479.5 913.3L1480.0 917.4L1480.5 921.9L1481.0 926.6L1481.5 931.5L1482.0 936.6L1482.5 941.8L1483.0 947.0L1483.5 952.2L1484.0 957.4L1484.5 962.5L1485.0 967.4L1485.5 972.1L1486.0 976.6L1486.5 980.7L1487.0 984.4L1487.5 987.7L1488.0 990.6L1488.5 992.9L1489.0 994.6L1489.5 995.6L1490.0 996.0L1490.5 995.8L1491.0 995.3L1491.5 994.4L1492.0 993.2L1492.5 991.7L1493.0 989.9L1493.5 987.9L1494.0 985.6L1494.5 983.2L1495.0 980.6L1495.5 977.8L1496.0 974.9L1496.5 971.9L1497.0 968.9L1497.5 965.7L1498.0 962.6L1498.5 959.4L1499.0 956.2L1499.5 953.1L1500.0 950.0L1500.5 946.5L1501.0 942.1L1501.5 937.1L1502.0 931.6L1502.5 926.0L1503.0 920.4L1503.5 915.1L1504.0 910.3L1504.5 906.1L1505.0 902.9L1505.5 900.8L1506.0 900.0L1506.5 900.2L1507.0 900.8L1507.5 901.6L1508.0 902.8L1508.5 904.1L1509.0 905.6L1509.5 907.1L1510.0 908.7L1510.5 910.2L1511.0 911.6L1511.5 912.9L1512.0 914.0L1512.5 915.0L1513.0 916.0L1513.5 917.1L1514.0 918.1L1514.5 919.2L1515.0 920.3L1515.5 921.4L1516.0 922.4L1516.5 923.4L1517.0 924.4L1517.5 925.3L1518.0 926.2L1518.5 927.0L1519.0 927.8L1519.5 928.4L1520.0 929.0L1520.5 929.4L1521.0 929.7L1521.5 929.9L1522.0 930.0L1522.5 930.0L1523.0 929.9L1523.5 929.7L1524.0 929.5L1524.5 929.3L1525.0 929.0L1525.5 928.7L1526.0 928.3L1526.5 927.8L1527.0 927.4L1527.5 926.9L1528.0 926.3L1528.5 925.8L1529.0 925.2L1529.5 924.5L1530.0 923.9L1530.5 923.2L1531.0 922.5L1531.5 921.8L1532.0 921.1L1532.5 920.3L1533.0 919.6L1533.5 918.8L1534.0 918.1L1534.5 917.3L1535.0 916.5L1535.5 915.7L1536.0 915.0L1536.5 914.2L1537.0 913.5L1537.5 912.7L1538.0 912.0L1538.5 911.3L1539.0 910.6L1539.5 909.8L1540.0 909.1L1540.5 908.3L1541.0 907.5L1541.5 906.8L1542.0 905.9L1542.5 905.1L1543.0 904.2L1543.5 903.3L1544.0 902.3L1544.5 901.4L1545.0 900.3L1545.5 899.2L1546.0 898.1L1546.5 896.9L1547.0 895.7L1547.5 894.4L1548.0 893.0L1548.5 891.3L1549.0 889.2L1549.5 886.6L1550.0 883.7L1550.5 880.5L1551.0 877.1L1551.5 873.5L1552.0 869.9L1552.5 866.3L1553.0 862.8L1553.5 859.5L1554.0 856.3L1554.5 853.5L1555.0 851.0L1555.5 848.9L1556.0 847.3L1556.5 846.3L1557.0 846.0L1557.5 846.1L1558.0 846.5L1558.5 847.1L1559.0 847.9L1559.5 848.8L1560.0 849.8L1560.5 850.9L1561.0 852.0L1561.5 853.1L1562.0 854.2L1562.5 855.2L1563.0 856.1L1563.5 856.9L1564.0 857.5L1564.5 857.9L1565.0 858.0L1565.5 857.8L1566.0 857.1L1566.5 856.2L1567.0 854.9L1567.5 853.4L1568.0 851.7L1568.5 849.9L1569.0 848.0L1569.5 846.1L1570.0 844.3L1570.5 842.6L1571.0 841.1L1571.5 839.8L1572.0 838.9L1572.5 838.2L1573.0 838.0L1573.5 838.1L1574.0 838.3L1574.5 838.7L1575.0 839.2L1575.5 839.8L1576.0 840.6L1576.5 841.4L1577.0 842.4L1577.5 843.4L1578.0 844.5L1578.5 845.7L1579.0 846.9L1579.5 848.1L1580.0 849.4L1580.5 850.7L1581.0 852.0L1581.5 853.3L1582.0 854.6L1582.5 855.9L1583.0 857.1L1583.5 858.3L1584.0 859.5L1584.5 860.6L1585.0 861.6L1585.5 862.6L1586.0 863.4L1586.5 864.2L1587.0 864.8L1587.5 865.3L1588.0 865.7L1588.5 865.9L1589.0 866.0L1589.5 865.9L1590.0 865.7L1590.5 865.3L1591.0 864.7L1591.5 864.1L1592.0 863.3L1592.5 862.4L1593.0 861.4L1593.5 860.4L1594.0 859.3L1594.5 858.1L1595.0 856.9L1595.5 855.7L1596.0 854.5L1596.5 853.3L1597.0 852.1L1597.5 850.9L1598.0 849.7L1598.5 848.6L1599.0 847.6L1599.5 846.6L1600.0 845.7L1600.5 844.9L1601.0 844.3L1601.5 843.7L1602.0 843.3L1602.5 843.1L1603.0 843.0L1603.5 843.4L1604.0 844.6L1604.5 846.5L1605.0 848.9L1605.5 851.9L1606.0 855.2L1606.5 858.8L1607.0 862.6L1607.5 866.5L1608.0 870.4L1608.5 874.2L1609.0 877.8L1609.5 881.1L1610.0 884.1L1610.5 886.5L1611.0 888.4L1611.5 889.6L1612.0 890.0L1612.5 890.0L1613.0 889.9L1613.5 889.9L1614.0 889.7L1614.5 889.6L1615.0 889.4L1615.5 889.2L1616.0 889.0L1616.5 888.8L1617.0 888.5L1617.5 888.2L1618.0 887.9L1618.5 887.5L1619.0 887.2L1619.5 886.8L1620.0 886.4L1620.5 886.0L1621.0 885.6L1621.5 885.2L1622.0 884.8L1622.5 884.3L1623.0 883.9L1623.5 883.4L1624.0 882.9L1624.5 882.5L1625.0 882.0L1625.5 881.5L1626.0 880.9L1626.5 880.3L1627.0 879.7L1627.5 879.0L1628.0 878.2L1628.5 877.4L1629.0 876.5L1629.5 875.6L1630.0 874.7L1630.5 873.7L1631.0 872.7L1631.5 871.7L1632.0 870.6L1632.5 869.4L1633.0 868.3L1633.5 867.1L1634.0 865.9L1634.5 864.6L1635.0 863.3L1635.5 862.0L1636.0 860.7L1636.5 859.4L1637.0 858.0L1637.5 856.5L1638.0 854.7L1638.5 852.7L1639.0 850.5L1639.5 848.1L1640.0 845.6L1640.5 843.0L1641.0 840.3L1641.5 837.5L1642.0 834.7L1642.5 831.9L1643.0 829.2L1643.5 826.5L1644.0 823.9L1644.5 821.4L1645.0 819.1L1645.5 816.9L1646.0 815.0L1646.5 813.3L1647.0 811.9L1647.5 810.8L1648.0 810.0L1648.5 809.4L1649.0 808.8L1649.5 808.2L1650.0 807.7L1650.5 807.2L1651.0 806.7L1651.5 806.2L1652.0 805.8L1652.5 805.4L1653.0 805.0L1653.5 804.7L1654.0 804.5L1654.5 804.3L1655.0 804.1L1655.5 804.0L1656.0 804.0L1656.5 804.1L1657.0 804.3L1657.5 804.6L1658.0 805.1L1658.5 805.7L1659.0 806.4L1659.5 807.2L1660.0 808.0L1660.5 809.0L1661.0 810.0L1661.5 811.2L1662.0 812.3L1662.5 813.5L1663.0 814.8L1663.5 816.1L1664.0 817.4L1664.5 818.8L1665.0 820.1L1665.5 821.5L1666.0 822.8L1666.5 824.2L1667.0 825.5L1667.5 826.8L1668.0 828.0L1668.5 829.3L1669.0 830.6L1669.5 832.0L1670.0 833.5L1670.5 835.0L1671.0 836.5L1671.5 838.1L1672.0 839.8L1672.5 841.4L1673.0 843.1L1673.5 844.8L1674.0 846.6L1674.5 848.3L1675.0 850.0L1675.5 851.7L1676.0 853.5L1676.5 855.1L1677.0 856.8L1677.5 858.5L1678.0 860.1L1678.5 861.6L1679.0 863.1L1679.5 864.6L1680.0 866.0L1680.5 867.4L1681.0 868.8L1681.5 870.1L1682.0 871.5L1682.5 872.9L1683.0 874.3L1683.5 875.6L1684.0 877.0L1684.5 878.3L1685.0 879.7L1685.5 881.0L1686.0 882.2L1686.5 883.5L1687.0 884.7L1687.5 885.9L1688.0 887.1L1688.5 888.2L1689.0 889.3L1689.5 890.4L1690.0 891.4L1690.5 892.4L1691.0 893.3L1691.5 894.2L1692.0 895.0L1692.5 895.8L1693.0 896.6L1693.5 897.4L1694.0 898.2L1694.5 899.1L1695.0 899.9L1695.5 900.7L1696.0 901.5L1696.5 902.2L1697.0 903.0L1697.5 903.7L1698.0 904.3L1698.5 905.0L1699.0 905.6L1699.5 906.1L1700.0 906.6L1700.5 907.0L1701.0 907.3L1701.5 907.6L1702.0 907.8L1702.5 908.0L1703.0 908.0L1703.5 907.9L1704.0 907.5L1704.5 906.9L1705.0 906.1L1705.5 905.1L1706.0 903.9L1706.5 902.6L1707.0 901.2L1707.5 899.7L1708.0 898.0L1708.5 896.3L1709.0 894.6L1709.5 892.8L1710.0 891.0L1710.5 889.2L1711.0 887.4L1711.5 885.7L1712.0 884.0L1712.5 882.3L1713.0 880.5L1713.5 878.5L1714.0 876.4L1714.5 874.2L1715.0 872.0L1715.5 869.7L1716.0 867.3L1716.5 864.9L1717.0 862.5L1717.5 860.1L1718.0 857.7L1718.5 855.4L1719.0 853.1L1719.5 850.8L1720.0 848.7L1720.5 846.6L1721.0 844.7L1721.5 842.9L1722.0 841.2L1722.5 839.7L1723.0 838.3L1723.5 837.0L1724.0 835.8L1724.5 834.7L1725.0 833.6L1725.5 832.5L1726.0 831.6L1726.5 830.6L1727.0 829.8L1727.5 828.9L1728.0 828.1L1728.5 827.3L1729.0 826.5L1729.5 825.7L1730.0 824.9L1730.5 824.1L1731.0 823.4L1731.5 822.5L1732.0 821.7L1732.5 820.9L1733.0 820.0L1733.5 819.0L1734.0 818.1L1734.5 817.0L1735.0 815.9L1735.5 814.8L1736.0 813.5L1736.5 812.2L1737.0 810.8L1737.5 809.3L1738.0 807.7L1738.5 806.1L1739.0 804.1L1739.5 801.8L1740.0 799.2L1740.5 796.2L1741.0 792.9L1741.5 789.3L1742.0 785.6L1742.5 781.6L1743.0 777.6L1743.5 773.4L1744.0 769.2L1744.5 765.0L1745.0 760.4L1745.5 755.6L1746.0 750.4L1746.5 745.0L1747.0 739.4L1747.5 733.7L1748.0 727.9L1748.5 721.9L1749.0 715.6L1749.5 709.0L1750.0 702.3L1750.5 695.5L1751.0 688.6L1751.5 681.6L1752.0 674.5L1752.5 667.2L1753.0 660.0L1753.5 652.8L1754.0 645.8L1754.5 638.8L1755.0 631.8L1755.5 624.9L1756.0 618.2L1756.5 611.9L1757.0 606.0L1757.5 600.6L1758.0 595.5L1758.5 590.5L1759.0 585.6L1759.5 580.6L1760.0 575.2L1760.5 569.5L1761.0 563.7L1761.5 557.9L1762.0 552.0L1762.5 545.4L1763.0 538.0L1763.5 529.3L1764.0 518.1L1764.5 501.2L1765.0 480.3L1765.5 457.6L1766.0 435.2L1766.5 415.2L1767.0 400.0L1767.5 388.5L1768.0 378.2L1768.5 369.0L1769.0 360.6L1769.5 352.8L1770.0 345.4L1770.5 338.3L1771.0 331.1L1771.5 323.6L1772.0 315.8L1772.5 307.3L1773.0 298.0L1773.5 287.5L1774.0 275.7L1774.5 263.2L1775.0 250.1L1775.5 237.0L1776.0 224.2L1776.5 212.0L1777.0 200.8L1777.5 191.0L1778.0 183.0L1778.5 175.9L1779.0 168.7L1779.5 161.7L1780.0 155.1L1780.5 149.1L1781.0 144.0L1781.5 140.0L1782.0 137.2L1782.5 136.0L1783.0 136.4L1783.5 137.8L1784.0 140.1L1784.5 143.4L1785.0 147.5L1785.5 152.2L1786.0 157.6L1786.5 163.4L1787.0 169.6L1787.5 176.2L1788.0 183.0L1788.5 191.3L1789.0 202.3L1789.5 215.4L1790.0 230.3L1790.5 246.4L1791.0 263.4L1791.5 280.7L1792.0 298.0L1792.5 316.3L1793.0 336.5L1793.5 357.8L1794.0 379.2L1794.5 400.0L1795.0 420.1L1795.5 440.0L1796.0 460.0L1796.5 479.9L1797.0 500.0L1797.5 520.3L1798.0 540.7L1798.5 561.2L1799.0 581.6L1799.5 602.0L1800.0 622.7L1800.5 643.8L1801.0 664.6L1801.5 684.6L1802.0 703.0L1802.5 719.7L1803.0 735.2L1803.5 750.0L1804.0 764.7L1804.5 780.0L1805.0 795.0L1805.5 809.4L1806.0 824.3L1806.5 840.8L1807.0 860.0L1807.5 886.1L1808.0 911.8L1808.5 937.2L1809.0 961.9L1809.5 985.4L1810.0 1007.9L1810.5 1031.5L1811.0 1054.1L1811.5 1073.0L1812.0 1085.7L1812.5 1093.6L1813.0 1099.8L1813.5 1105.0L1814.0 1109.5L1814.5 1113.7L1815.0 1118.2L1815.5 1123.4L1816.0 1129.1L1816.5 1135.2L1817.0 1141.2L1817.5 1147.1L1818.0 1152.6L1818.5 1157.6L1819.0 1161.8L1819.5 1165.7L1820.0 1169.5L1820.5 1173.2L1821.0 1176.8L1821.5 1180.2L1822.0 1183.5L1822.5 1186.6L1823.0 1189.4L1823.5 1192.0L1824.0 1194.4L1824.5 1196.4L1825.0 1198.2L1825.5 1199.5L1826.0 1200.6L1826.5 1201.6L1827.0 1202.6L1827.5 1203.5L1828.0 1204.4L1828.5 1205.3L1829.0 1206.0L1829.5 1206.8L1830.0 1207.5L1830.5 1208.1L1831.0 1208.7L1831.5 1209.3L1832.0 1209.7L1832.5 1210.2L1833.0 1210.5L1833.5 1210.9L1834.0 1211.1L1834.5 1211.3L1835.0 1211.4L1835.5 1211.5L1836.0 1211.6L1836.5 1211.7L1837.0 1211.8L1837.5 1211.9L1838.0 1212.0L1838.5 1212.1L1839.0 1212.2L1839.5 1212.3L1840.0 1212.3L1840.5 1212.4L1841.0 1212.5L1841.5 1212.6L1842.0 1212.6L1842.5 1212.7L1843.0 1212.8L1843.5 1212.8L1844.0 1212.9L1844.5 1213.0L1845.0 1213.0L1845.5 1213.1L1846.0 1213.1L1846.5 1213.2L1847.0 1213.2L1847.5 1213.3L1848.0 1213.3L1848.5 1213.3L1849.0 1213.4L1849.5 1213.4L1850.0 1213.5L1850.5 1213.5L1851.0 1213.5L1851.5 1213.5L1852.0 1213.6L1852.5 1213.6L1853.0 1213.6L1853.5 1213.6L1854.0 1213.6L1854.5 1213.7L1855.0 1213.7L1855.5 1213.7L1856.0 1213.7L1856.5 1213.7L1857.0 1213.7L1857.5 1213.7L1858.0 1213.7L1858.5 1213.7L1859.0 1213.7L1859.5 1213.7L1860.0 1213.7L1860.5 1213.7L1861.0 1213.7L1861.5 1213.7L1862.0 1213.7L1862.5 1213.7L1863.0 1213.7L1863.5 1213.7L1864.0 1213.7L1864.5 1213.7L1865.0 1213.7L1865.5 1213.7L1866.0 1213.7L1866.5 1213.7L1867.0 1213.7L1867.5 1213.7L1868.0 1213.7L1868.5 1213.7L1869.0 1213.7L1869.5 1213.7L1870.0 1213.7L1870.5 1213.7L1871.0 1213.7L1871.5 1213.7L1872.0 1213.7L1872.5 1213.7L1873.0 1213.7L1873.5 1213.7L1874.0 1213.7L1874.5 1213.7L1875.0 1213.7L1875.5 1213.7L1876.0 1213.7L1876.5 1213.7L1877.0 1213.7L1877.5 1213.7L1878.0 1213.7L1878.5 1213.7L1879.0 1213.7L1879.5 1213.7L1880.0 1213.7L1880.5 1213.7L1881.0 1213.7L1881.5 1213.7L1882.0 1213.7L1882.5 1213.7L1883.0 1213.7L1883.5 1213.7L1884.0 1213.7L1884.5 1213.6L1885.0 1213.6L1885.5 1213.6L1886.0 1213.6L1886.5 1213.6L1887.0 1213.6L1887.5 1213.6L1888.0 1213.6L1888.5 1213.6L1889.0 1213.6L1889.5 1213.6L1890.0 1213.6L1890.5 1213.6L1891.0 1213.6L1891.5 1213.6L1892.0 1213.6L1892.5 1213.6L1893.0 1213.6L1893.5 1213.6L1894.0 1213.6L1894.5 1213.6L1895.0 1213.6L1895.5 1213.6L1896.0 1213.6L1896.5 1213.5L1897.0 1213.5L1897.5 1213.5L1898.0 1213.5L1898.5 1213.5L1899.0 1213.5L1899.5 1213.5L1900.0 1213.5" stroke="#cc0000" stroke-width="8" stroke-dasharray="22 17" stroke-linecap="butt"/>
<path d="M280.0 1209.0L280.5 1209.0L281.0 1208.9L281.5 1208.7L282.0 1208.5L282.5 1208.3L283.0 1208.0L283.5 1207.6L284.0 1207.3L284.5 1206.8L285.0 1206.4L285.5 1206.0L286.0 1205.5L286.5 1204.9L287.0 1204.1L287.5 1203.1L288.0 1202.0L288.5 1200.7L289.0 1199.3L289.5 1197.8L290.0 1196.2L290.5 1194.7L291.0 1193.1L291.5 1191.5L292.0 1190.0L292.5 1188.5L293.0 1186.8L293.5 1185.1L294.0 1183.3L294.5 1181.4L295.0 1179.4L295.5 1177.3L296.0 1175.2L296.5 1173.0L297.0 1170.7L297.5 1168.4L298.0 1166.0L298.5 1163.6L299.0 1161.2L299.5 1158.7L300.0 1156.1L300.5 1153.6L301.0 1151.0L301.5 1148.4L302.0 1145.8L302.5 1143.2L303.0 1140.6L303.5 1138.0L304.0 1135.3L304.5 1132.8L305.0 1130.2L305.5 1127.6L306.0 1125.1L306.5 1122.6L307.0 1120.1L307.5 1117.7L308.0 1115.3L308.5 1113.0L309.0 1110.7L309.5 1108.5L310.0 1106.3L310.5 1104.2L311.0 1102.2L311.5 1100.3L312.0 1098.4L312.5 1096.7L313.0 1095.0L313.5 1093.4L314.0 1092.0L314.5 1090.6L315.0 1089.4L315.5 1088.2L316.0 1087.2L316.5 1086.3L317.0 1085.6L317.5 1085.0L318.0 1084.5L318.5 1084.2L319.0 1084.0L319.5 1084.0L320.0 1084.2L320.5 1084.5L321.0 1084.9L321.5 1085.5L322.0 1086.3L322.5 1087.1L323.0 1088.2L323.5 1089.3L324.0 1090.6L324.5 1091.9L325.0 1093.4L325.5 1095.0L326.0 1096.7L326.5 1098.5L327.0 1100.4L327.5 1102.3L328.0 1104.4L328.5 1106.5L329.0 1108.6L329.5 1110.9L330.0 1113.2L330.5 1115.5L331.0 1117.9L331.5 1120.4L332.0 1122.9L332.5 1125.4L333.0 1127.9L333.5 1130.5L334.0 1133.1L334.5 1135.6L335.0 1138.2L335.5 1140.8L336.0 1143.4L336.5 1146.0L337.0 1148.6L337.5 1151.1L338.0 1153.6L338.5 1156.1L339.0 1158.6L339.5 1161.0L340.0 1163.3L340.5 1165.7L341.0 1167.9L341.5 1170.1L342.0 1172.2L342.5 1174.3L343.0 1176.3L343.5 1178.2L344.0 1180.0L344.5 1181.7L345.0 1183.3L345.5 1184.8L346.0 1186.2L346.5 1187.5L347.0 1188.6L347.5 1189.7L348.0 1190.6L348.5 1191.3L349.0 1192.0L349.5 1192.5L350.0 1192.8L350.5 1193.0L351.0 1193.0L351.5 1192.8L352.0 1192.5L352.5 1192.1L353.0 1191.5L353.5 1190.7L354.0 1189.8L354.5 1188.8L355.0 1187.6L355.5 1186.3L356.0 1184.9L356.5 1183.4L357.0 1181.8L357.5 1180.1L358.0 1178.3L358.5 1176.4L359.0 1174.4L359.5 1172.3L360.0 1170.2L360.5 1168.0L361.0 1165.7L361.5 1163.4L362.0 1161.0L362.5 1158.6L363.0 1156.1L363.5 1153.6L364.0 1151.0L364.5 1148.5L365.0 1145.9L365.5 1143.2L366.0 1140.6L366.5 1138.0L367.0 1135.4L367.5 1132.8L368.0 1130.1L368.5 1127.5L369.0 1125.0L369.5 1122.4L370.0 1119.9L370.5 1117.4L371.0 1115.0L371.5 1112.6L372.0 1110.3L372.5 1108.0L373.0 1105.8L373.5 1103.7L374.0 1101.6L374.5 1099.6L375.0 1097.7L375.5 1095.9L376.0 1094.2L376.5 1092.6L377.0 1091.1L377.5 1089.7L378.0 1088.4L378.5 1087.2L379.0 1086.2L379.5 1085.3L380.0 1084.5L380.5 1083.9L381.0 1083.5L381.5 1083.2L382.0 1083.0L382.5 1083.0L383.0 1083.2L383.5 1083.4L384.0 1083.8L384.5 1084.3L385.0 1084.9L385.5 1085.6L386.0 1086.5L386.5 1087.4L387.0 1088.4L387.5 1089.5L388.0 1090.7L388.5 1092.0L389.0 1093.4L389.5 1094.9L390.0 1096.4L390.5 1098.0L391.0 1099.7L391.5 1101.4L392.0 1103.2L392.5 1105.1L393.0 1107.0L393.5 1109.0L394.0 1111.0L394.5 1113.1L395.0 1115.1L395.5 1117.3L396.0 1119.4L396.5 1121.6L397.0 1123.8L397.5 1126.1L398.0 1128.3L398.5 1130.6L399.0 1132.9L399.5 1135.2L400.0 1137.5L400.5 1139.7L401.0 1142.0L401.5 1144.3L402.0 1146.6L402.5 1148.8L403.0 1151.0L403.5 1153.2L404.0 1155.4L404.5 1157.6L405.0 1159.7L405.5 1161.8L406.0 1163.8L406.5 1165.8L407.0 1167.7L407.5 1169.6L408.0 1171.5L408.5 1173.3L409.0 1175.0L409.5 1176.6L410.0 1178.2L410.5 1179.7L411.0 1181.1L411.5 1182.5L412.0 1183.7L412.5 1184.9L413.0 1186.0L413.5 1187.0L414.0 1187.9L414.5 1188.7L415.0 1189.3L415.5 1189.9L416.0 1190.4L416.5 1190.7L417.0 1190.9L417.5 1191.0L418.0 1190.9L418.5 1190.6L419.0 1190.1L419.5 1189.4L420.0 1188.5L420.5 1187.3L421.0 1186.0L421.5 1184.5L422.0 1182.9L422.5 1181.1L423.0 1179.2L423.5 1177.1L424.0 1174.8L424.5 1172.5L425.0 1170.1L425.5 1167.5L426.0 1164.8L426.5 1162.1L427.0 1159.3L427.5 1156.4L428.0 1153.5L428.5 1150.5L429.0 1147.5L429.5 1144.4L430.0 1141.3L430.5 1138.2L431.0 1135.1L431.5 1132.0L432.0 1128.9L432.5 1125.9L433.0 1122.8L433.5 1119.8L434.0 1116.9L434.5 1114.0L435.0 1111.1L435.5 1108.4L436.0 1105.7L436.5 1103.2L437.0 1100.7L437.5 1098.3L438.0 1096.1L438.5 1094.0L439.0 1092.0L439.5 1090.1L440.0 1088.5L440.5 1087.0L441.0 1085.6L441.5 1084.5L442.0 1083.5L442.5 1082.7L443.0 1082.2L443.5 1081.8L444.0 1081.7L444.5 1081.8L445.0 1082.0L445.5 1082.3L446.0 1082.7L446.5 1083.2L447.0 1083.9L447.5 1084.7L448.0 1085.5L448.5 1086.5L449.0 1087.5L449.5 1088.7L450.0 1089.9L450.5 1091.2L451.0 1092.6L451.5 1094.1L452.0 1095.6L452.5 1097.2L453.0 1098.9L453.5 1100.6L454.0 1102.4L454.5 1104.3L455.0 1106.1L455.5 1108.1L456.0 1110.0L456.5 1112.0L457.0 1114.1L457.5 1116.1L458.0 1118.2L458.5 1120.3L459.0 1122.4L459.5 1124.6L460.0 1126.7L460.5 1128.8L461.0 1131.0L461.5 1133.1L462.0 1135.3L462.5 1137.4L463.0 1139.5L463.5 1141.6L464.0 1143.6L464.5 1145.7L465.0 1147.7L465.5 1149.6L466.0 1151.6L466.5 1153.4L467.0 1155.3L467.5 1157.1L468.0 1158.8L468.5 1160.5L469.0 1162.1L469.5 1163.6L470.0 1165.1L470.5 1166.5L471.0 1167.8L471.5 1169.0L472.0 1170.2L472.5 1171.2L473.0 1172.2L473.5 1173.0L474.0 1173.8L474.5 1174.5L475.0 1175.0L475.5 1175.4L476.0 1175.7L476.5 1175.9L477.0 1176.0L477.5 1175.9L478.0 1175.6L478.5 1175.1L479.0 1174.3L479.5 1173.4L480.0 1172.4L480.5 1171.1L481.0 1169.7L481.5 1168.1L482.0 1166.4L482.5 1164.6L483.0 1162.6L483.5 1160.5L484.0 1158.2L484.5 1155.9L485.0 1153.5L485.5 1151.0L486.0 1148.4L486.5 1145.7L487.0 1143.0L487.5 1140.1L488.0 1137.3L488.5 1134.4L489.0 1131.5L489.5 1128.5L490.0 1125.5L490.5 1122.5L491.0 1119.6L491.5 1116.6L492.0 1113.6L492.5 1110.6L493.0 1107.7L493.5 1104.8L494.0 1102.0L494.5 1099.2L495.0 1096.5L495.5 1093.8L496.0 1091.2L496.5 1088.7L497.0 1086.3L497.5 1084.0L498.0 1081.8L498.5 1079.7L499.0 1077.8L499.5 1075.9L500.0 1074.3L500.5 1072.7L501.0 1071.3L501.5 1070.1L502.0 1069.1L502.5 1068.2L503.0 1067.5L503.5 1067.0L504.0 1066.8L504.5 1066.7L505.0 1066.8L505.5 1067.0L506.0 1067.3L506.5 1067.7L507.0 1068.2L507.5 1068.9L508.0 1069.6L508.5 1070.4L509.0 1071.3L509.5 1072.3L510.0 1073.4L510.5 1074.6L511.0 1075.9L511.5 1077.2L512.0 1078.6L512.5 1080.0L513.0 1081.6L513.5 1083.2L514.0 1084.8L514.5 1086.5L515.0 1088.3L515.5 1090.1L516.0 1092.0L516.5 1093.9L517.0 1095.8L517.5 1097.8L518.0 1099.8L518.5 1101.8L519.0 1103.8L519.5 1105.9L520.0 1108.0L520.5 1110.1L521.0 1112.2L521.5 1114.4L522.0 1116.5L522.5 1118.6L523.0 1120.8L523.5 1122.9L524.0 1125.0L524.5 1127.1L525.0 1129.2L525.5 1131.3L526.0 1133.3L526.5 1135.3L527.0 1137.3L527.5 1139.3L528.0 1141.2L528.5 1143.1L529.0 1145.0L529.5 1146.8L530.0 1148.5L530.5 1150.2L531.0 1151.9L531.5 1153.4L532.0 1155.0L532.5 1156.4L533.0 1157.8L533.5 1159.1L534.0 1160.3L534.5 1161.5L535.0 1162.6L535.5 1163.6L536.0 1164.5L536.5 1165.3L537.0 1166.0L537.5 1166.6L538.0 1167.1L538.5 1167.5L539.0 1167.8L539.5 1167.9L540.0 1168.0L540.5 1167.9L541.0 1167.4L541.5 1166.7L542.0 1165.7L542.5 1164.5L543.0 1163.1L543.5 1161.4L544.0 1159.5L544.5 1157.4L545.0 1155.1L545.5 1152.6L546.0 1150.0L546.5 1147.2L547.0 1144.2L547.5 1141.2L548.0 1138.0L548.5 1134.6L549.0 1131.2L549.5 1127.7L550.0 1124.2L550.5 1120.5L551.0 1116.9L551.5 1113.1L552.0 1109.4L552.5 1105.6L553.0 1101.8L553.5 1098.1L554.0 1094.3L554.5 1090.6L555.0 1086.9L555.5 1083.3L556.0 1079.8L556.5 1076.3L557.0 1072.9L557.5 1069.6L558.0 1066.4L558.5 1063.4L559.0 1060.5L559.5 1057.7L560.0 1055.1L560.5 1052.6L561.0 1050.4L561.5 1048.3L562.0 1046.5L562.5 1044.8L563.0 1043.4L563.5 1042.2L564.0 1041.3L564.5 1040.7L565.0 1040.3L565.5 1040.2L566.0 1040.3L566.5 1040.6L567.0 1041.1L567.5 1041.7L568.0 1042.5L568.5 1043.5L569.0 1044.6L569.5 1045.8L570.0 1047.2L570.5 1048.7L571.0 1050.3L571.5 1052.1L572.0 1053.9L572.5 1055.9L573.0 1058.0L573.5 1060.1L574.0 1062.4L574.5 1064.8L575.0 1067.2L575.5 1069.7L576.0 1072.3L576.5 1074.9L577.0 1077.6L577.5 1080.4L578.0 1083.1L578.5 1086.0L579.0 1088.9L579.5 1091.8L580.0 1094.7L580.5 1097.6L581.0 1100.6L581.5 1103.6L582.0 1106.5L582.5 1109.5L583.0 1112.5L583.5 1115.4L584.0 1118.3L584.5 1121.2L585.0 1124.1L585.5 1126.9L586.0 1129.7L586.5 1132.4L587.0 1135.1L587.5 1137.7L588.0 1140.3L588.5 1142.8L589.0 1145.2L589.5 1147.5L590.0 1149.8L590.5 1151.9L591.0 1154.0L591.5 1155.9L592.0 1157.8L592.5 1159.5L593.0 1161.1L593.5 1162.6L594.0 1163.9L594.5 1165.2L595.0 1166.2L595.5 1167.1L596.0 1167.9L596.5 1168.5L597.0 1168.9L597.5 1169.2L598.0 1169.3L598.5 1169.2L599.0 1168.7L599.5 1168.0L600.0 1167.0L600.5 1165.8L601.0 1164.3L601.5 1162.7L602.0 1160.7L602.5 1158.6L603.0 1156.3L603.5 1153.9L604.0 1151.2L604.5 1148.4L605.0 1145.5L605.5 1142.4L606.0 1139.2L606.5 1135.9L607.0 1132.5L607.5 1129.1L608.0 1125.5L608.5 1121.9L609.0 1118.3L609.5 1114.6L610.0 1110.9L610.5 1107.2L611.0 1103.5L611.5 1099.9L612.0 1096.2L612.5 1092.6L613.0 1089.0L613.5 1085.5L614.0 1082.1L614.5 1078.8L615.0 1075.6L615.5 1072.4L616.0 1069.4L616.5 1066.6L617.0 1063.9L617.5 1061.3L618.0 1059.0L618.5 1056.8L619.0 1054.8L619.5 1053.0L620.0 1051.5L620.5 1050.1L621.0 1049.1L621.5 1048.2L622.0 1047.7L622.5 1047.4L623.0 1047.4L623.5 1047.6L624.0 1048.0L624.5 1048.5L625.0 1049.2L625.5 1050.0L626.0 1051.0L626.5 1052.1L627.0 1053.3L627.5 1054.7L628.0 1056.2L628.5 1057.8L629.0 1059.6L629.5 1061.4L630.0 1063.3L630.5 1065.3L631.0 1067.4L631.5 1069.6L632.0 1071.9L632.5 1074.2L633.0 1076.6L633.5 1079.1L634.0 1081.6L634.5 1084.2L635.0 1086.8L635.5 1089.4L636.0 1092.1L636.5 1094.7L637.0 1097.5L637.5 1100.2L638.0 1102.9L638.5 1105.6L639.0 1108.4L639.5 1111.1L640.0 1113.8L640.5 1116.4L641.0 1119.1L641.5 1121.7L642.0 1124.3L642.5 1126.8L643.0 1129.3L643.5 1131.7L644.0 1134.1L644.5 1136.4L645.0 1138.6L645.5 1140.7L646.0 1142.8L646.5 1144.8L647.0 1146.6L647.5 1148.4L648.0 1150.1L648.5 1151.6L649.0 1153.0L649.5 1154.3L650.0 1155.5L650.5 1156.5L651.0 1157.4L651.5 1158.1L652.0 1158.7L652.5 1159.2L653.0 1159.4L653.5 1159.5L654.0 1159.4L654.5 1159.1L655.0 1158.5L655.5 1157.8L656.0 1156.8L656.5 1155.7L657.0 1154.4L657.5 1152.9L658.0 1151.3L658.5 1149.6L659.0 1147.6L659.5 1145.6L660.0 1143.4L660.5 1141.2L661.0 1138.8L661.5 1136.3L662.0 1133.8L662.5 1131.2L663.0 1128.5L663.5 1125.7L664.0 1122.9L664.5 1120.0L665.0 1117.2L665.5 1114.3L666.0 1111.4L666.5 1108.4L667.0 1105.5L667.5 1102.6L668.0 1099.8L668.5 1096.9L669.0 1094.1L669.5 1091.3L670.0 1088.6L670.5 1086.0L671.0 1083.5L671.5 1081.0L672.0 1078.6L672.5 1076.4L673.0 1074.2L673.5 1072.2L674.0 1070.2L674.5 1068.5L675.0 1066.9L675.5 1065.4L676.0 1064.1L676.5 1063.0L677.0 1062.0L677.5 1061.3L678.0 1060.7L678.5 1060.4L679.0 1060.3L679.5 1060.4L680.0 1060.6L680.5 1061.0L681.0 1061.6L681.5 1062.3L682.0 1063.2L682.5 1064.2L683.0 1065.3L683.5 1066.6L684.0 1067.9L684.5 1069.4L685.0 1071.0L685.5 1072.7L686.0 1074.5L686.5 1076.4L687.0 1078.4L687.5 1080.5L688.0 1082.6L688.5 1084.8L689.0 1087.1L689.5 1089.4L690.0 1091.8L690.5 1094.2L691.0 1096.7L691.5 1099.2L692.0 1101.7L692.5 1104.3L693.0 1106.8L693.5 1109.4L694.0 1112.0L694.5 1114.6L695.0 1117.2L695.5 1119.7L696.0 1122.3L696.5 1124.8L697.0 1127.3L697.5 1129.8L698.0 1132.2L698.5 1134.6L699.0 1137.0L699.5 1139.2L700.0 1141.5L700.5 1143.6L701.0 1145.7L701.5 1147.7L702.0 1149.6L702.5 1151.4L703.0 1153.1L703.5 1154.7L704.0 1156.3L704.5 1157.7L705.0 1158.9L705.5 1160.1L706.0 1161.1L706.5 1162.0L707.0 1162.8L707.5 1163.4L708.0 1163.8L708.5 1164.1L709.0 1164.2L709.5 1164.1L710.0 1163.8L710.5 1163.3L711.0 1162.7L711.5 1161.8L712.0 1160.7L712.5 1159.5L713.0 1158.0L713.5 1156.5L714.0 1154.8L714.5 1152.9L715.0 1150.9L715.5 1148.8L716.0 1146.6L716.5 1144.2L717.0 1141.8L717.5 1139.3L718.0 1136.7L718.5 1134.0L719.0 1131.3L719.5 1128.5L720.0 1125.7L720.5 1122.8L721.0 1119.9L721.5 1117.0L722.0 1114.1L722.5 1111.2L723.0 1108.2L723.5 1105.3L724.0 1102.5L724.5 1099.6L725.0 1096.8L725.5 1094.1L726.0 1091.4L726.5 1088.7L727.0 1086.2L727.5 1083.7L728.0 1081.4L728.5 1079.1L729.0 1076.9L729.5 1074.9L730.0 1073.0L730.5 1071.2L731.0 1069.6L731.5 1068.1L732.0 1066.8L732.5 1065.6L733.0 1064.7L733.5 1063.9L734.0 1063.3L734.5 1063.0L735.0 1062.8L735.5 1062.9L736.0 1063.1L736.5 1063.5L737.0 1064.1L737.5 1064.9L738.0 1065.9L738.5 1067.0L739.0 1068.2L739.5 1069.6L740.0 1071.1L740.5 1072.8L741.0 1074.5L741.5 1076.4L742.0 1078.4L742.5 1080.5L743.0 1082.7L743.5 1085.0L744.0 1087.4L744.5 1089.8L745.0 1092.3L745.5 1094.9L746.0 1097.5L746.5 1100.2L747.0 1102.9L747.5 1105.6L748.0 1108.4L748.5 1111.2L749.0 1114.0L749.5 1116.8L750.0 1119.6L750.5 1122.4L751.0 1125.2L751.5 1128.0L752.0 1130.8L752.5 1133.5L753.0 1136.2L753.5 1138.8L754.0 1141.4L754.5 1143.9L755.0 1146.4L755.5 1148.7L756.0 1151.0L756.5 1153.3L757.0 1155.4L757.5 1157.4L758.0 1159.3L758.5 1161.1L759.0 1162.8L759.5 1164.3L760.0 1165.7L760.5 1167.0L761.0 1168.1L761.5 1169.1L762.0 1169.9L762.5 1170.6L763.0 1171.0L763.5 1171.3L764.0 1171.4L764.5 1171.3L765.0 1171.0L765.5 1170.5L766.0 1169.9L766.5 1169.0L767.0 1168.0L767.5 1166.9L768.0 1165.5L768.5 1164.1L769.0 1162.5L769.5 1160.8L770.0 1158.9L770.5 1156.9L771.0 1154.9L771.5 1152.7L772.0 1150.4L772.5 1148.0L773.0 1145.6L773.5 1143.1L774.0 1140.5L774.5 1137.8L775.0 1135.1L775.5 1132.4L776.0 1129.6L776.5 1126.8L777.0 1124.0L777.5 1121.1L778.0 1118.2L778.5 1115.4L779.0 1112.5L779.5 1109.7L780.0 1106.8L780.5 1104.0L781.0 1101.2L781.5 1098.5L782.0 1095.8L782.5 1093.2L783.0 1090.6L783.5 1088.1L784.0 1085.7L784.5 1083.3L785.0 1081.1L785.5 1078.9L786.0 1076.9L786.5 1074.9L787.0 1073.1L787.5 1071.4L788.0 1069.8L788.5 1068.4L789.0 1067.1L789.5 1066.0L790.0 1065.0L790.5 1064.2L791.0 1063.6L791.5 1063.1L792.0 1062.9L792.5 1062.8L793.0 1063.0L793.5 1063.3L794.0 1063.9L794.5 1064.7L795.0 1065.7L795.5 1066.9L796.0 1068.2L796.5 1069.7L797.0 1071.4L797.5 1073.2L798.0 1075.1L798.5 1077.2L799.0 1079.4L799.5 1081.7L800.0 1084.1L800.5 1086.6L801.0 1089.1L801.5 1091.8L802.0 1094.5L802.5 1097.3L803.0 1100.1L803.5 1103.0L804.0 1105.8L804.5 1108.7L805.0 1111.7L805.5 1114.6L806.0 1117.5L806.5 1120.4L807.0 1123.3L807.5 1126.1L808.0 1128.9L808.5 1131.6L809.0 1134.3L809.5 1136.9L810.0 1139.4L810.5 1141.9L811.0 1144.2L811.5 1146.5L812.0 1148.6L812.5 1150.6L813.0 1152.4L813.5 1154.2L814.0 1155.7L814.5 1157.1L815.0 1158.4L815.5 1159.4L816.0 1160.3L816.5 1160.9L817.0 1161.4L817.5 1161.7L818.0 1161.7L818.5 1161.4L819.0 1160.9L819.5 1160.0L820.0 1159.0L820.5 1157.6L821.0 1156.0L821.5 1154.2L822.0 1152.2L822.5 1150.0L823.0 1147.6L823.5 1145.0L824.0 1142.2L824.5 1139.3L825.0 1136.2L825.5 1133.0L826.0 1129.7L826.5 1126.2L827.0 1122.7L827.5 1119.1L828.0 1115.3L828.5 1111.6L829.0 1107.7L829.5 1103.8L830.0 1099.9L830.5 1096.0L831.0 1092.1L831.5 1088.1L832.0 1084.2L832.5 1080.3L833.0 1076.4L833.5 1072.6L834.0 1068.9L834.5 1065.2L835.0 1061.6L835.5 1058.1L836.0 1054.7L836.5 1051.4L837.0 1048.2L837.5 1045.2L838.0 1042.4L838.5 1039.7L839.0 1037.1L839.5 1034.8L840.0 1032.6L840.5 1030.7L841.0 1029.0L841.5 1027.5L842.0 1026.3L842.5 1025.3L843.0 1024.6L843.5 1024.1L844.0 1024.0L844.5 1024.1L845.0 1024.6L845.5 1025.3L846.0 1026.2L846.5 1027.4L847.0 1028.8L847.5 1030.4L848.0 1032.3L848.5 1034.3L849.0 1036.5L849.5 1038.9L850.0 1041.5L850.5 1044.2L851.0 1047.0L851.5 1050.0L852.0 1053.0L852.5 1056.2L853.0 1059.5L853.5 1062.8L854.0 1066.2L854.5 1069.7L855.0 1073.2L855.5 1076.8L856.0 1080.3L856.5 1083.9L857.0 1087.4L857.5 1091.0L858.0 1094.5L858.5 1098.0L859.0 1101.4L859.5 1104.7L860.0 1108.0L860.5 1111.2L861.0 1114.3L861.5 1117.3L862.0 1120.2L862.5 1122.9L863.0 1125.5L863.5 1127.9L864.0 1130.2L864.5 1132.2L865.0 1134.1L865.5 1135.8L866.0 1137.3L866.5 1138.5L867.0 1139.5L867.5 1140.2L868.0 1140.7L868.5 1140.9L869.0 1140.8L869.5 1140.6L870.0 1140.2L870.5 1139.6L871.0 1138.9L871.5 1138.0L872.0 1137.0L872.5 1135.8L873.0 1134.5L873.5 1133.1L874.0 1131.5L874.5 1129.8L875.0 1128.0L875.5 1126.2L876.0 1124.2L876.5 1122.1L877.0 1119.9L877.5 1117.7L878.0 1115.4L878.5 1113.0L879.0 1110.6L879.5 1108.1L880.0 1105.6L880.5 1103.0L881.0 1100.4L881.5 1097.8L882.0 1095.2L882.5 1092.5L883.0 1089.8L883.5 1087.2L884.0 1084.5L884.5 1081.9L885.0 1079.2L885.5 1076.6L886.0 1074.0L886.5 1071.5L887.0 1069.0L887.5 1066.5L888.0 1064.1L888.5 1061.8L889.0 1059.5L889.5 1057.4L890.0 1055.2L890.5 1053.2L891.0 1051.3L891.5 1049.5L892.0 1047.8L892.5 1046.2L893.0 1044.7L893.5 1043.3L894.0 1042.1L894.5 1041.0L895.0 1040.0L895.5 1039.2L896.0 1038.6L896.5 1038.1L897.0 1037.8L897.5 1037.7L898.0 1037.8L898.5 1038.1L899.0 1038.6L899.5 1039.4L900.0 1040.4L900.5 1041.5L901.0 1042.9L901.5 1044.4L902.0 1046.1L902.5 1048.0L903.0 1050.0L903.5 1052.1L904.0 1054.4L904.5 1056.8L905.0 1059.3L905.5 1061.9L906.0 1064.5L906.5 1067.3L907.0 1070.1L907.5 1073.0L908.0 1075.9L908.5 1078.8L909.0 1081.8L909.5 1084.8L910.0 1087.7L910.5 1090.7L911.0 1093.7L911.5 1096.6L912.0 1099.5L912.5 1102.3L913.0 1105.1L913.5 1107.8L914.0 1110.5L914.5 1113.0L915.0 1115.5L915.5 1117.8L916.0 1120.0L916.5 1122.1L917.0 1124.1L917.5 1125.9L918.0 1127.5L918.5 1129.0L919.0 1130.3L919.5 1131.3L920.0 1132.2L920.5 1132.9L921.0 1133.4L921.5 1133.6L922.0 1133.6L922.5 1133.3L923.0 1132.8L923.5 1132.1L924.0 1131.2L924.5 1130.1L925.0 1128.8L925.5 1127.3L926.0 1125.6L926.5 1123.8L927.0 1121.8L927.5 1119.7L928.0 1117.5L928.5 1115.1L929.0 1112.6L929.5 1110.0L930.0 1107.3L930.5 1104.5L931.0 1101.7L931.5 1098.8L932.0 1095.8L932.5 1092.7L933.0 1089.6L933.5 1086.5L934.0 1083.4L934.5 1080.3L935.0 1077.1L935.5 1074.0L936.0 1070.8L936.5 1067.7L937.0 1064.7L937.5 1061.6L938.0 1058.7L938.5 1055.7L939.0 1052.9L939.5 1050.1L940.0 1047.5L940.5 1044.9L941.0 1042.4L941.5 1040.1L942.0 1037.8L942.5 1035.8L943.0 1033.8L943.5 1032.0L944.0 1030.4L944.5 1029.0L945.0 1027.7L945.5 1026.6L946.0 1025.7L946.5 1025.1L947.0 1024.6L947.5 1024.4L948.0 1024.4L948.5 1024.7L949.0 1025.2L949.5 1025.9L950.0 1026.9L950.5 1028.0L951.0 1029.3L951.5 1030.8L952.0 1032.5L952.5 1034.3L953.0 1036.3L953.5 1038.4L954.0 1040.7L954.5 1043.0L955.0 1045.5L955.5 1048.1L956.0 1050.7L956.5 1053.5L957.0 1056.3L957.5 1059.1L958.0 1062.0L958.5 1065.0L959.0 1067.9L959.5 1070.9L960.0 1073.9L960.5 1076.9L961.0 1079.8L961.5 1082.8L962.0 1085.7L962.5 1088.5L963.0 1091.3L963.5 1094.1L964.0 1096.7L964.5 1099.3L965.0 1101.8L965.5 1104.1L966.0 1106.4L966.5 1108.5L967.0 1110.5L967.5 1112.3L968.0 1114.0L968.5 1115.5L969.0 1116.8L969.5 1117.9L970.0 1118.9L970.5 1119.6L971.0 1120.1L971.5 1120.4L972.0 1120.4L972.5 1120.2L973.0 1119.8L973.5 1119.3L974.0 1118.6L974.5 1117.7L975.0 1116.7L975.5 1115.5L976.0 1114.2L976.5 1112.7L977.0 1111.2L977.5 1109.5L978.0 1107.7L978.5 1105.7L979.0 1103.7L979.5 1101.6L980.0 1099.5L980.5 1097.2L981.0 1094.9L981.5 1092.5L982.0 1090.1L982.5 1087.7L983.0 1085.2L983.5 1082.6L984.0 1080.1L984.5 1077.5L985.0 1075.0L985.5 1072.4L986.0 1069.9L986.5 1067.3L987.0 1064.8L987.5 1062.4L988.0 1059.9L988.5 1057.6L989.0 1055.2L989.5 1053.0L990.0 1050.8L990.5 1048.7L991.0 1046.6L991.5 1044.7L992.0 1042.9L992.5 1041.2L993.0 1039.6L993.5 1038.1L994.0 1036.7L994.5 1035.5L995.0 1034.5L995.5 1033.6L996.0 1032.8L996.5 1032.2L997.0 1031.8L997.5 1031.6L998.0 1031.6L998.5 1031.9L999.0 1032.5L999.5 1033.4L1000.0 1034.6L1000.5 1036.0L1001.0 1037.7L1001.5 1039.5L1002.0 1041.6L1002.5 1043.9L1003.0 1046.4L1003.5 1049.0L1004.0 1051.8L1004.5 1054.7L1005.0 1057.6L1005.5 1060.7L1006.0 1063.9L1006.5 1067.1L1007.0 1070.4L1007.5 1073.7L1008.0 1076.9L1008.5 1080.2L1009.0 1083.5L1009.5 1086.7L1010.0 1089.9L1010.5 1093.0L1011.0 1095.9L1011.5 1098.8L1012.0 1101.6L1012.5 1104.2L1013.0 1106.7L1013.5 1109.0L1014.0 1111.1L1014.5 1112.9L1015.0 1114.6L1015.5 1116.0L1016.0 1117.2L1016.5 1118.1L1017.0 1118.7L1017.5 1119.0L1018.0 1119.0L1018.5 1118.8L1019.0 1118.4L1019.5 1117.8L1020.0 1117.1L1020.5 1116.3L1021.0 1115.2L1021.5 1114.1L1022.0 1112.8L1022.5 1111.3L1023.0 1109.8L1023.5 1108.1L1024.0 1106.3L1024.5 1104.5L1025.0 1102.5L1025.5 1100.4L1026.0 1098.3L1026.5 1096.0L1027.0 1093.7L1027.5 1091.4L1028.0 1089.0L1028.5 1086.5L1029.0 1084.0L1029.5 1081.5L1030.0 1078.9L1030.5 1076.3L1031.0 1073.7L1031.5 1071.1L1032.0 1068.5L1032.5 1065.9L1033.0 1063.3L1033.5 1060.7L1034.0 1058.1L1034.5 1055.6L1035.0 1053.1L1035.5 1050.7L1036.0 1048.3L1036.5 1045.9L1037.0 1043.7L1037.5 1041.5L1038.0 1039.3L1038.5 1037.3L1039.0 1035.4L1039.5 1033.5L1040.0 1031.8L1040.5 1030.2L1041.0 1028.7L1041.5 1027.3L1042.0 1026.0L1042.5 1024.9L1043.0 1024.0L1043.5 1023.2L1044.0 1022.5L1044.5 1022.0L1045.0 1021.7L1045.5 1021.6L1046.0 1021.7L1046.5 1022.0L1047.0 1022.6L1047.5 1023.5L1048.0 1024.5L1048.5 1025.8L1049.0 1027.3L1049.5 1028.9L1050.0 1030.7L1050.5 1032.7L1051.0 1034.7L1051.5 1037.0L1052.0 1039.3L1052.5 1041.7L1053.0 1044.2L1053.5 1046.7L1054.0 1049.4L1054.5 1052.0L1055.0 1054.7L1055.5 1057.3L1056.0 1060.0L1056.5 1062.6L1057.0 1065.3L1057.5 1067.8L1058.0 1070.3L1058.5 1072.7L1059.0 1075.0L1059.5 1077.3L1060.0 1079.3L1060.5 1081.3L1061.0 1083.1L1061.5 1084.7L1062.0 1086.2L1062.5 1087.5L1063.0 1088.5L1063.5 1089.4L1064.0 1090.0L1064.5 1090.3L1065.0 1090.4L1065.5 1090.3L1066.0 1089.9L1066.5 1089.4L1067.0 1088.7L1067.5 1087.8L1068.0 1086.7L1068.5 1085.5L1069.0 1084.2L1069.5 1082.7L1070.0 1081.1L1070.5 1079.4L1071.0 1077.6L1071.5 1075.7L1072.0 1073.7L1072.5 1071.6L1073.0 1069.4L1073.5 1067.2L1074.0 1065.0L1074.5 1062.7L1075.0 1060.3L1075.5 1058.0L1076.0 1055.6L1076.5 1053.2L1077.0 1050.9L1077.5 1048.5L1078.0 1046.2L1078.5 1043.9L1079.0 1041.6L1079.5 1039.4L1080.0 1037.3L1080.5 1035.2L1081.0 1033.2L1081.5 1031.3L1082.0 1029.5L1082.5 1027.8L1083.0 1026.3L1083.5 1024.8L1084.0 1023.5L1084.5 1022.3L1085.0 1021.3L1085.5 1020.5L1086.0 1019.8L1086.5 1019.3L1087.0 1019.0L1087.5 1018.8L1088.0 1018.6L1088.5 1018.4L1089.0 1018.2L1089.5 1018.1L1090.0 1017.9L1090.5 1017.7L1091.0 1017.6L1091.5 1017.5L1092.0 1017.3L1092.5 1017.2L1093.0 1017.2L1093.5 1017.1L1094.0 1017.0L1094.5 1017.0L1095.0 1017.0L1095.5 1017.0L1096.0 1017.1L1096.5 1017.3L1097.0 1017.6L1097.5 1017.9L1098.0 1018.2L1098.5 1018.6L1099.0 1019.0L1099.5 1019.5L1100.0 1020.0L1100.5 1020.5L1101.0 1021.0L1101.5 1021.8L1102.0 1023.0L1102.5 1024.5L1103.0 1026.5L1103.5 1028.7L1104.0 1031.2L1104.5 1034.0L1105.0 1036.9L1105.5 1040.1L1106.0 1043.3L1106.5 1046.6L1107.0 1050.0L1107.5 1053.4L1108.0 1056.7L1108.5 1060.0L1109.0 1063.2L1109.5 1066.3L1110.0 1069.1L1110.5 1071.8L1111.0 1074.2L1111.5 1076.2L1112.0 1078.0L1112.5 1079.4L1113.0 1080.4L1113.5 1080.9L1114.0 1081.0L1114.5 1080.5L1115.0 1079.7L1115.5 1078.5L1116.0 1076.9L1116.5 1075.0L1117.0 1072.8L1117.5 1070.5L1118.0 1067.9L1118.5 1065.2L1119.0 1062.4L1119.5 1059.6L1120.0 1056.7L1120.5 1053.8L1121.0 1051.1L1121.5 1048.4L1122.0 1045.8L1122.5 1043.5L1123.0 1041.4L1123.5 1039.5L1124.0 1038.0L1124.5 1036.6L1125.0 1035.3L1125.5 1033.9L1126.0 1032.5L1126.5 1031.1L1127.0 1029.7L1127.5 1028.4L1128.0 1027.0L1128.5 1025.7L1129.0 1024.3L1129.5 1023.0L1130.0 1021.7L1130.5 1020.4L1131.0 1019.2L1131.5 1017.9L1132.0 1016.7L1132.5 1015.6L1133.0 1014.4L1133.5 1013.3L1134.0 1012.2L1134.5 1011.2L1135.0 1010.2L1135.5 1009.2L1136.0 1008.3L1136.5 1007.5L1137.0 1006.6L1137.5 1005.9L1138.0 1005.2L1138.5 1004.5L1139.0 1003.9L1139.5 1003.4L1140.0 1002.9L1140.5 1002.5L1141.0 1002.2L1141.5 1001.9L1142.0 1001.8L1142.5 1001.6L1143.0 1001.6L1143.5 1001.8L1144.0 1002.4L1144.5 1003.3L1145.0 1004.5L1145.5 1006.0L1146.0 1007.8L1146.5 1009.8L1147.0 1012.0L1147.5 1014.4L1148.0 1016.9L1148.5 1019.6L1149.0 1022.3L1149.5 1025.1L1150.0 1027.9L1150.5 1030.8L1151.0 1033.6L1151.5 1036.4L1152.0 1039.1L1152.5 1041.7L1153.0 1044.2L1153.5 1046.5L1154.0 1048.6L1154.5 1050.6L1155.0 1052.2L1155.5 1053.6L1156.0 1054.7L1156.5 1055.5L1157.0 1055.9L1157.5 1056.0L1158.0 1055.8L1158.5 1055.4L1159.0 1054.7L1159.5 1053.9L1160.0 1052.9L1160.5 1051.7L1161.0 1050.4L1161.5 1048.9L1162.0 1047.3L1162.5 1045.6L1163.0 1043.7L1163.5 1041.7L1164.0 1039.6L1164.5 1037.5L1165.0 1035.2L1165.5 1033.0L1166.0 1030.6L1166.5 1028.2L1167.0 1025.8L1167.5 1023.4L1168.0 1020.9L1168.5 1018.5L1169.0 1016.0L1169.5 1013.6L1170.0 1011.3L1170.5 1008.9L1171.0 1006.7L1171.5 1004.5L1172.0 1002.3L1172.5 1000.3L1173.0 998.4L1173.5 996.5L1174.0 994.8L1174.5 993.3L1175.0 991.8L1175.5 990.6L1176.0 989.5L1176.5 988.5L1177.0 987.8L1177.5 987.2L1178.0 986.9L1178.5 986.8L1179.0 986.9L1179.5 987.2L1180.0 987.7L1180.5 988.3L1181.0 989.2L1181.5 990.1L1182.0 991.3L1182.5 992.5L1183.0 993.9L1183.5 995.4L1184.0 997.0L1184.5 998.7L1185.0 1000.5L1185.5 1002.4L1186.0 1004.3L1186.5 1006.3L1187.0 1008.4L1187.5 1010.5L1188.0 1012.6L1188.5 1014.7L1189.0 1016.8L1189.5 1019.0L1190.0 1021.1L1190.5 1023.2L1191.0 1025.2L1191.5 1027.3L1192.0 1029.2L1192.5 1031.2L1193.0 1033.0L1193.5 1034.8L1194.0 1036.4L1194.5 1038.0L1195.0 1039.5L1195.5 1040.8L1196.0 1042.0L1196.5 1043.1L1197.0 1044.0L1197.5 1044.7L1198.0 1045.3L1198.5 1045.7L1199.0 1046.0L1199.5 1046.0L1200.0 1045.7L1200.5 1045.3L1201.0 1044.6L1201.5 1043.7L1202.0 1042.6L1202.5 1041.3L1203.0 1039.9L1203.5 1038.4L1204.0 1036.8L1204.5 1035.1L1205.0 1033.4L1205.5 1031.6L1206.0 1029.8L1206.5 1028.0L1207.0 1026.2L1207.5 1024.4L1208.0 1022.7L1208.5 1021.1L1209.0 1019.6L1209.5 1018.2L1210.0 1017.0L1210.5 1015.8L1211.0 1014.6L1211.5 1013.4L1212.0 1012.1L1212.5 1010.8L1213.0 1009.5L1213.5 1008.2L1214.0 1006.8L1214.5 1005.5L1215.0 1004.1L1215.5 1002.8L1216.0 1001.4L1216.5 1000.1L1217.0 998.8L1217.5 997.5L1218.0 996.2L1218.5 995.0L1219.0 993.8L1219.5 992.6L1220.0 991.4L1220.5 990.3L1221.0 989.2L1221.5 988.2L1222.0 987.2L1222.5 986.3L1223.0 985.5L1223.5 984.7L1224.0 983.9L1224.5 983.3L1225.0 982.7L1225.5 982.2L1226.0 981.8L1226.5 981.4L1227.0 981.2L1227.5 981.1L1228.0 981.0L1228.5 981.1L1229.0 981.6L1229.5 982.3L1230.0 983.2L1230.5 984.4L1231.0 985.8L1231.5 987.3L1232.0 989.1L1232.5 991.0L1233.0 993.1L1233.5 995.3L1234.0 997.6L1234.5 1000.0L1235.0 1002.5L1235.5 1005.0L1236.0 1007.6L1236.5 1010.2L1237.0 1012.8L1237.5 1015.4L1238.0 1018.0L1238.5 1020.5L1239.0 1023.0L1239.5 1025.4L1240.0 1027.7L1240.5 1029.9L1241.0 1032.0L1241.5 1033.9L1242.0 1035.7L1242.5 1037.2L1243.0 1038.6L1243.5 1039.8L1244.0 1040.7L1244.5 1041.4L1245.0 1041.9L1245.5 1042.0L1246.0 1041.9L1246.5 1041.6L1247.0 1041.0L1247.5 1040.3L1248.0 1039.3L1248.5 1038.2L1249.0 1036.9L1249.5 1035.5L1250.0 1033.9L1250.5 1032.1L1251.0 1030.2L1251.5 1028.2L1252.0 1026.1L1252.5 1023.9L1253.0 1021.6L1253.5 1019.2L1254.0 1016.7L1254.5 1014.2L1255.0 1011.6L1255.5 1009.0L1256.0 1006.3L1256.5 1003.7L1257.0 1001.0L1257.5 998.2L1258.0 995.5L1258.5 992.9L1259.0 990.2L1259.5 987.6L1260.0 985.0L1260.5 982.5L1261.0 980.0L1261.5 977.6L1262.0 975.3L1262.5 973.1L1263.0 971.0L1263.5 969.0L1264.0 967.1L1264.5 965.3L1265.0 963.7L1265.5 962.3L1266.0 961.0L1266.5 959.9L1267.0 958.9L1267.5 958.2L1268.0 957.6L1268.5 957.3L1269.0 957.2L1269.5 957.3L1270.0 957.8L1270.5 958.4L1271.0 959.3L1271.5 960.5L1272.0 961.8L1272.5 963.4L1273.0 965.1L1273.5 967.0L1274.0 969.1L1274.5 971.3L1275.0 973.6L1275.5 976.0L1276.0 978.6L1276.5 981.2L1277.0 983.8L1277.5 986.5L1278.0 989.3L1278.5 992.0L1279.0 994.8L1279.5 997.6L1280.0 1000.3L1280.5 1003.0L1281.0 1005.6L1281.5 1008.2L1282.0 1010.6L1282.5 1013.0L1283.0 1015.2L1283.5 1017.3L1284.0 1019.3L1284.5 1021.1L1285.0 1022.8L1285.5 1024.2L1286.0 1025.4L1286.5 1026.4L1287.0 1027.2L1287.5 1027.7L1288.0 1028.0L1288.5 1027.9L1289.0 1027.6L1289.5 1027.0L1290.0 1026.1L1290.5 1025.0L1291.0 1023.6L1291.5 1022.0L1292.0 1020.2L1292.5 1018.2L1293.0 1016.0L1293.5 1013.7L1294.0 1011.2L1294.5 1008.6L1295.0 1005.9L1295.5 1003.1L1296.0 1000.2L1296.5 997.2L1297.0 994.3L1297.5 991.2L1298.0 988.2L1298.5 985.2L1299.0 982.1L1299.5 979.2L1300.0 976.2L1300.5 973.4L1301.0 970.6L1301.5 967.9L1302.0 965.3L1302.5 962.9L1303.0 960.6L1303.5 958.4L1304.0 956.5L1304.5 954.7L1305.0 953.1L1305.5 951.8L1306.0 950.7L1306.5 949.9L1307.0 949.3L1307.5 949.0L1308.0 949.1L1308.5 949.6L1309.0 950.6L1309.5 952.1L1310.0 953.9L1310.5 956.0L1311.0 958.5L1311.5 961.3L1312.0 964.3L1312.5 967.5L1313.0 970.9L1313.5 974.5L1314.0 978.2L1314.5 982.0L1315.0 985.8L1315.5 989.6L1316.0 993.4L1316.5 997.1L1317.0 1000.7L1317.5 1004.2L1318.0 1007.6L1318.5 1010.7L1319.0 1013.7L1319.5 1016.3L1320.0 1018.7L1320.5 1020.7L1321.0 1022.4L1321.5 1023.6L1322.0 1024.4L1322.5 1024.8L1323.0 1024.7L1323.5 1024.3L1324.0 1023.5L1324.5 1022.4L1325.0 1021.1L1325.5 1019.5L1326.0 1017.6L1326.5 1015.5L1327.0 1013.1L1327.5 1010.6L1328.0 1007.8L1328.5 1004.9L1329.0 1001.8L1329.5 998.5L1330.0 995.1L1330.5 991.6L1331.0 988.0L1331.5 984.3L1332.0 980.5L1332.5 976.7L1333.0 972.8L1333.5 968.9L1334.0 965.0L1334.5 961.1L1335.0 957.2L1335.5 953.4L1336.0 949.5L1336.5 945.8L1337.0 942.1L1337.5 938.6L1338.0 935.1L1338.5 931.8L1339.0 928.6L1339.5 925.5L1340.0 922.7L1340.5 920.0L1341.0 917.5L1341.5 915.3L1342.0 913.2L1342.5 911.5L1343.0 909.9L1343.5 908.7L1344.0 907.8L1344.5 907.1L1345.0 906.8L1345.5 906.9L1346.0 907.6L1346.5 908.7L1347.0 910.4L1347.5 912.6L1348.0 915.2L1348.5 918.2L1349.0 921.6L1349.5 925.2L1350.0 929.2L1350.5 933.4L1351.0 937.8L1351.5 942.3L1352.0 947.0L1352.5 951.8L1353.0 956.7L1353.5 961.5L1354.0 966.3L1354.5 971.1L1355.0 975.8L1355.5 980.3L1356.0 984.7L1356.5 988.8L1357.0 992.7L1357.5 996.3L1358.0 999.6L1358.5 1002.5L1359.0 1005.1L1359.5 1007.1L1360.0 1008.7L1360.5 1009.8L1361.0 1010.4L1361.5 1010.3L1362.0 1009.6L1362.5 1008.5L1363.0 1006.8L1363.5 1004.6L1364.0 1001.9L1364.5 998.9L1365.0 995.5L1365.5 991.8L1366.0 987.8L1366.5 983.5L1367.0 979.0L1367.5 974.2L1368.0 969.4L1368.5 964.4L1369.0 959.3L1369.5 954.2L1370.0 949.1L1370.5 944.0L1371.0 939.0L1371.5 934.1L1372.0 929.3L1372.5 924.6L1373.0 920.2L1373.5 916.0L1374.0 912.1L1374.5 908.5L1375.0 905.2L1375.5 902.4L1376.0 899.9L1376.5 897.9L1377.0 896.4L1377.5 895.4L1378.0 895.0L1378.5 895.2L1379.0 895.8L1379.5 896.9L1380.0 898.5L1380.5 900.5L1381.0 902.8L1381.5 905.5L1382.0 908.5L1382.5 911.8L1383.0 915.3L1383.5 919.1L1384.0 923.1L1384.5 927.2L1385.0 931.4L1385.5 935.7L1386.0 940.1L1386.5 944.6L1387.0 949.0L1387.5 953.4L1388.0 957.7L1388.5 962.0L1389.0 966.1L1389.5 970.1L1390.0 973.9L1390.5 977.5L1391.0 980.8L1391.5 983.9L1392.0 986.7L1392.5 989.1L1393.0 991.1L1393.5 992.8L1394.0 994.0L1394.5 994.7L1395.0 995.0L1395.5 994.6L1396.0 993.5L1396.5 991.7L1397.0 989.3L1397.5 986.4L1398.0 982.9L1398.5 978.9L1399.0 974.5L1399.5 969.7L1400.0 964.5L1400.5 959.1L1401.0 953.4L1401.5 947.6L1402.0 941.6L1402.5 935.5L1403.0 929.4L1403.5 923.3L1404.0 917.2L1404.5 911.2L1405.0 905.4L1405.5 899.8L1406.0 894.4L1406.5 889.4L1407.0 884.6L1407.5 880.3L1408.0 876.4L1408.5 873.0L1409.0 870.1L1409.5 867.8L1410.0 866.2L1410.5 865.2L1411.0 865.0L1411.5 865.4L1412.0 866.2L1412.5 867.4L1413.0 869.1L1413.5 871.2L1414.0 873.6L1414.5 876.4L1415.0 879.4L1415.5 882.8L1416.0 886.4L1416.5 890.2L1417.0 894.3L1417.5 898.5L1418.0 902.8L1418.5 907.3L1419.0 911.8L1419.5 916.4L1420.0 921.1L1420.5 925.8L1421.0 930.4L1421.5 935.0L1422.0 939.5L1422.5 943.9L1423.0 948.2L1423.5 952.4L1424.0 956.3L1424.5 960.1L1425.0 963.6L1425.5 966.8L1426.0 969.8L1426.5 972.4L1427.0 974.7L1427.5 976.6L1428.0 978.1L1428.5 979.2L1429.0 979.8L1429.5 980.0L1430.0 979.3L1430.5 977.7L1431.0 975.2L1431.5 972.0L1432.0 968.1L1432.5 963.6L1433.0 958.6L1433.5 953.2L1434.0 947.5L1434.5 941.5L1435.0 935.3L1435.5 929.1L1436.0 922.9L1436.5 916.8L1437.0 910.9L1437.5 905.2L1438.0 899.9L1438.5 895.0L1439.0 890.6L1439.5 886.8L1440.0 883.8L1440.5 881.4L1441.0 880.0L1441.5 879.5L1442.0 879.7L1442.5 880.2L1443.0 881.0L1443.5 882.1L1444.0 883.5L1444.5 885.2L1445.0 887.1L1445.5 889.2L1446.0 891.5L1446.5 894.1L1447.0 896.7L1447.5 899.6L1448.0 902.6L1448.5 905.7L1449.0 908.9L1449.5 912.1L1450.0 915.5L1450.5 918.9L1451.0 922.3L1451.5 925.7L1452.0 929.1L1452.5 932.5L1453.0 935.9L1453.5 939.1L1454.0 942.3L1454.5 945.4L1455.0 948.4L1455.5 951.3L1456.0 953.9L1456.5 956.5L1457.0 958.8L1457.5 960.9L1458.0 962.8L1458.5 964.5L1459.0 965.9L1459.5 967.0L1460.0 967.8L1460.5 968.3L1461.0 968.5L1461.5 968.1L1462.0 967.0L1462.5 965.2L1463.0 962.9L1463.5 960.0L1464.0 956.5L1464.5 952.7L1465.0 948.5L1465.5 943.9L1466.0 939.2L1466.5 934.2L1467.0 929.0L1467.5 923.8L1468.0 918.6L1468.5 913.4L1469.0 908.3L1469.5 903.4L1470.0 898.6L1470.5 894.2L1471.0 890.0L1471.5 886.2L1472.0 882.9L1472.5 880.1L1473.0 877.8L1473.5 876.2L1474.0 875.2L1474.5 875.0L1475.0 875.2L1475.5 875.8L1476.0 876.6L1476.5 877.7L1477.0 879.1L1477.5 880.7L1478.0 882.6L1478.5 884.6L1479.0 886.8L1479.5 889.2L1480.0 891.7L1480.5 894.3L1481.0 897.1L1481.5 899.9L1482.0 902.8L1482.5 905.7L1483.0 908.7L1483.5 911.7L1484.0 914.6L1484.5 917.6L1485.0 920.5L1485.5 923.3L1486.0 926.0L1486.5 928.6L1487.0 931.1L1487.5 933.4L1488.0 935.6L1488.5 937.6L1489.0 939.4L1489.5 941.0L1490.0 942.3L1490.5 943.4L1491.0 944.1L1491.5 944.6L1492.0 944.8L1492.5 944.5L1493.0 943.5L1493.5 941.9L1494.0 939.7L1494.5 937.1L1495.0 934.0L1495.5 930.5L1496.0 926.7L1496.5 922.6L1497.0 918.2L1497.5 913.7L1498.0 909.0L1498.5 904.3L1499.0 899.5L1499.5 894.7L1500.0 890.0L1500.5 885.5L1501.0 881.1L1501.5 876.9L1502.0 873.0L1502.5 869.5L1503.0 866.3L1503.5 863.6L1504.0 861.3L1504.5 859.6L1505.0 858.5L1505.5 858.0L1506.0 858.1L1506.5 858.6L1507.0 859.5L1507.5 860.6L1508.0 862.1L1508.5 863.9L1509.0 865.9L1509.5 868.1L1510.0 870.5L1510.5 873.1L1511.0 875.8L1511.5 878.6L1512.0 881.5L1512.5 884.5L1513.0 887.5L1513.5 890.6L1514.0 893.6L1514.5 896.6L1515.0 899.5L1515.5 902.3L1516.0 905.0L1516.5 907.5L1517.0 909.9L1517.5 912.1L1518.0 914.0L1518.5 915.7L1519.0 917.1L1519.5 918.2L1520.0 919.0L1520.5 919.4L1521.0 919.5L1521.5 919.0L1522.0 918.1L1522.5 916.9L1523.0 915.2L1523.5 913.3L1524.0 911.1L1524.5 908.6L1525.0 906.0L1525.5 903.2L1526.0 900.3L1526.5 897.4L1527.0 894.4L1527.5 891.5L1528.0 888.7L1528.5 886.0L1529.0 883.4L1529.5 881.0L1530.0 878.9L1530.5 877.1L1531.0 875.6L1531.5 874.5L1532.0 873.7L1532.5 873.5L1533.0 873.7L1533.5 874.4L1534.0 875.5L1534.5 876.9L1535.0 878.6L1535.5 880.5L1536.0 882.6L1536.5 884.8L1537.0 887.1L1537.5 889.4L1538.0 891.7L1538.5 893.9L1539.0 896.0L1539.5 897.9L1540.0 899.6L1540.5 901.0L1541.0 902.1L1541.5 902.8L1542.0 903.0L1542.5 902.8L1543.0 902.3L1543.5 901.6L1544.0 900.5L1544.5 899.2L1545.0 897.7L1545.5 895.9L1546.0 894.0L1546.5 891.9L1547.0 889.6L1547.5 887.3L1548.0 884.8L1548.5 882.3L1549.0 879.7L1549.5 877.1L1550.0 874.4L1550.5 871.8L1551.0 869.2L1551.5 866.7L1552.0 864.2L1552.5 861.9L1553.0 859.6L1553.5 857.5L1554.0 855.6L1554.5 853.8L1555.0 852.3L1555.5 851.0L1556.0 849.9L1556.5 849.2L1557.0 848.7L1557.5 848.5L1558.0 848.9L1558.5 849.9L1559.0 851.5L1559.5 853.7L1560.0 856.3L1560.5 859.2L1561.0 862.5L1561.5 865.9L1562.0 869.5L1562.5 873.0L1563.0 876.6L1563.5 880.0L1564.0 883.3L1564.5 886.2L1565.0 888.8L1565.5 891.0L1566.0 892.6L1566.5 893.6L1567.0 894.0L1567.5 893.9L1568.0 893.5L1568.5 892.9L1569.0 892.0L1569.5 891.0L1570.0 889.8L1570.5 888.5L1571.0 887.0L1571.5 885.4L1572.0 883.7L1572.5 881.9L1573.0 880.0L1573.5 878.1L1574.0 876.2L1574.5 874.4L1575.0 872.5L1575.5 870.6L1576.0 868.8L1576.5 867.1L1577.0 865.5L1577.5 864.0L1578.0 862.7L1578.5 861.5L1579.0 860.5L1579.5 859.6L1580.0 859.0L1580.5 858.6L1581.0 858.5L1581.5 858.7L1582.0 859.3L1582.5 860.2L1583.0 861.4L1583.5 862.8L1584.0 864.4L1584.5 866.2L1585.0 868.1L1585.5 870.1L1586.0 872.0L1586.5 874.0L1587.0 875.9L1587.5 877.7L1588.0 879.4L1588.5 880.9L1589.0 882.1L1589.5 883.1L1590.0 883.7L1590.5 884.0L1591.0 883.9L1591.5 883.6L1592.0 883.1L1592.5 882.4L1593.0 881.6L1593.5 880.6L1594.0 879.4L1594.5 878.2L1595.0 876.9L1595.5 875.5L1596.0 874.1L1596.5 872.6L1597.0 871.1L1597.5 869.7L1598.0 868.2L1598.5 866.8L1599.0 865.5L1599.5 864.3L1600.0 863.2L1600.5 862.2L1601.0 861.4L1601.5 860.8L1602.0 860.3L1602.5 860.0L1603.0 860.0L1603.5 860.4L1604.0 861.1L1604.5 862.2L1605.0 863.5L1605.5 865.1L1606.0 866.9L1606.5 868.8L1607.0 870.9L1607.5 873.0L1608.0 875.2L1608.5 877.4L1609.0 879.5L1609.5 881.6L1610.0 883.5L1610.5 885.2L1611.0 886.8L1611.5 888.1L1612.0 889.0L1612.5 889.7L1613.0 890.0L1613.5 889.9L1614.0 889.4L1614.5 888.5L1615.0 887.3L1615.5 885.8L1616.0 884.0L1616.5 882.0L1617.0 879.8L1617.5 877.4L1618.0 874.9L1618.5 872.2L1619.0 869.5L1619.5 866.7L1620.0 864.0L1620.5 861.2L1621.0 858.5L1621.5 855.8L1622.0 853.3L1622.5 850.9L1623.0 848.7L1623.5 846.7L1624.0 844.9L1624.5 843.4L1625.0 842.2L1625.5 841.3L1626.0 840.8L1626.5 840.7L1627.0 841.0L1627.5 841.6L1628.0 842.5L1628.5 843.7L1629.0 845.1L1629.5 846.7L1630.0 848.4L1630.5 850.3L1631.0 852.3L1631.5 854.2L1632.0 856.2L1632.5 858.2L1633.0 860.1L1633.5 861.8L1634.0 863.4L1634.5 864.8L1635.0 866.0L1635.5 866.9L1636.0 867.5L1636.5 867.8L1637.0 867.7L1637.5 867.3L1638.0 866.6L1638.5 865.7L1639.0 864.6L1639.5 863.3L1640.0 861.9L1640.5 860.3L1641.0 858.6L1641.5 856.9L1642.0 855.2L1642.5 853.4L1643.0 851.6L1643.5 849.9L1644.0 848.3L1644.5 846.8L1645.0 845.5L1645.5 844.3L1646.0 843.3L1646.5 842.5L1647.0 842.0L1647.5 841.8L1648.0 841.9L1648.5 842.2L1649.0 842.8L1649.5 843.5L1650.0 844.4L1650.5 845.5L1651.0 846.7L1651.5 847.9L1652.0 849.3L1652.5 850.7L1653.0 852.1L1653.5 853.5L1654.0 854.8L1654.5 856.1L1655.0 857.4L1655.5 858.5L1656.0 859.5L1656.5 860.3L1657.0 860.9L1657.5 861.3L1658.0 861.5L1658.5 861.3L1659.0 860.7L1659.5 859.6L1660.0 858.0L1660.5 856.2L1661.0 854.0L1661.5 851.6L1662.0 848.9L1662.5 846.1L1663.0 843.2L1663.5 840.3L1664.0 837.3L1664.5 834.4L1665.0 831.6L1665.5 829.0L1666.0 826.5L1666.5 824.2L1667.0 822.3L1667.5 820.7L1668.0 819.5L1668.5 818.8L1669.0 818.5L1669.5 818.6L1670.0 818.8L1670.5 819.2L1671.0 819.8L1671.5 820.4L1672.0 821.2L1672.5 822.0L1673.0 822.9L1673.5 823.9L1674.0 824.9L1674.5 826.0L1675.0 827.0L1675.5 828.1L1676.0 829.2L1676.5 830.2L1677.0 831.2L1677.5 832.1L1678.0 833.0L1678.5 833.8L1679.0 834.5L1679.5 835.1L1680.0 835.5L1680.5 835.8L1681.0 836.0L1681.5 835.9L1682.0 835.3L1682.5 834.3L1683.0 833.0L1683.5 831.4L1684.0 829.5L1684.5 827.5L1685.0 825.5L1685.5 823.5L1686.0 821.5L1686.5 819.8L1687.0 818.2L1687.5 817.0L1688.0 816.2L1688.5 815.8L1689.0 815.9L1689.5 816.3L1690.0 816.8L1690.5 817.6L1691.0 818.5L1691.5 819.5L1692.0 820.5L1692.5 821.5L1693.0 822.5L1693.5 823.4L1694.0 824.1L1694.5 824.6L1695.0 824.9L1695.5 825.0L1696.0 824.7L1696.5 824.1L1697.0 823.3L1697.5 822.3L1698.0 821.0L1698.5 819.6L1699.0 818.1L1699.5 816.5L1700.0 814.8L1700.5 813.0L1701.0 811.3L1701.5 809.5L1702.0 807.9L1702.5 806.3L1703.0 804.8L1703.5 803.5L1704.0 802.3L1704.5 801.3L1705.0 800.6L1705.5 800.2L1706.0 800.0L1706.5 800.2L1707.0 800.6L1707.5 801.2L1708.0 802.1L1708.5 803.0L1709.0 804.0L1709.5 805.0L1710.0 805.9L1710.5 806.8L1711.0 807.4L1711.5 807.8L1712.0 808.0L1712.5 807.4L1713.0 805.5L1713.5 802.8L1714.0 799.2L1714.5 795.0L1715.0 790.4L1715.5 785.6L1716.0 780.7L1716.5 776.0L1717.0 771.6L1717.5 767.8L1718.0 764.6L1718.5 762.3L1719.0 760.8L1719.5 759.6L1720.0 758.5L1720.5 757.6L1721.0 756.8L1721.5 756.0L1722.0 755.3L1722.5 754.6L1723.0 753.8L1723.5 752.9L1724.0 752.0L1724.5 750.9L1725.0 749.6L1725.5 748.0L1726.0 745.9L1726.5 743.4L1727.0 740.6L1727.5 737.5L1728.0 734.3L1728.5 731.0L1729.0 727.8L1729.5 724.8L1730.0 722.0L1730.5 719.4L1731.0 716.9L1731.5 714.4L1732.0 712.0L1732.5 709.6L1733.0 707.3L1733.5 704.9L1734.0 702.6L1734.5 700.2L1735.0 697.9L1735.5 695.5L1736.0 693.0L1736.5 690.5L1737.0 688.0L1737.5 685.3L1738.0 682.6L1738.5 679.9L1739.0 677.1L1739.5 674.4L1740.0 671.6L1740.5 668.9L1741.0 666.2L1741.5 663.5L1742.0 661.0L1742.5 658.5L1743.0 656.3L1743.5 654.4L1744.0 652.7L1744.5 650.9L1745.0 649.1L1745.5 647.1L1746.0 644.8L1746.5 642.0L1747.0 638.7L1747.5 633.6L1748.0 625.2L1748.5 615.3L1749.0 605.6L1749.5 598.0L1750.0 592.5L1750.5 587.6L1751.0 583.3L1751.5 579.3L1752.0 575.5L1752.5 571.6L1753.0 567.5L1753.5 563.0L1754.0 557.9L1754.5 552.5L1755.0 546.8L1755.5 540.8L1756.0 534.6L1756.5 528.3L1757.0 521.7L1757.5 515.1L1758.0 508.3L1758.5 501.4L1759.0 494.4L1759.5 487.2L1760.0 479.7L1760.5 472.1L1761.0 464.4L1761.5 456.5L1762.0 448.5L1762.5 440.4L1763.0 432.3L1763.5 424.1L1764.0 415.9L1764.5 407.7L1765.0 399.5L1765.5 391.4L1766.0 383.4L1766.5 375.4L1767.0 367.4L1767.5 359.3L1768.0 351.2L1768.5 342.9L1769.0 334.4L1769.5 325.8L1770.0 316.8L1770.5 307.6L1771.0 298.0L1771.5 287.4L1772.0 275.4L1772.5 262.4L1773.0 249.0L1773.5 235.5L1774.0 222.5L1774.5 210.3L1775.0 199.5L1775.5 190.4L1776.0 183.5L1776.5 177.9L1777.0 172.5L1777.5 167.2L1778.0 162.2L1778.5 157.4L1779.0 153.0L1779.5 148.9L1780.0 145.3L1780.5 142.3L1781.0 139.7L1781.5 137.8L1782.0 136.5L1782.5 136.0L1783.0 136.4L1783.5 138.0L1784.0 140.7L1784.5 144.4L1785.0 148.9L1785.5 154.2L1786.0 160.2L1786.5 166.6L1787.0 173.5L1787.5 180.6L1788.0 188.5L1788.5 199.2L1789.0 212.5L1789.5 227.8L1790.0 244.6L1790.5 262.2L1791.0 280.2L1791.5 298.0L1792.0 316.7L1792.5 337.2L1793.0 358.4L1793.5 379.5L1794.0 399.5L1794.5 418.0L1795.0 435.8L1795.5 453.2L1796.0 470.7L1796.5 488.7L1797.0 507.7L1797.5 527.7L1798.0 548.2L1798.5 569.0L1799.0 589.6L1799.5 609.7L1800.0 630.0L1800.5 650.4L1801.0 670.2L1801.5 689.2L1802.0 706.8L1802.5 723.1L1803.0 738.4L1803.5 753.2L1804.0 767.9L1804.5 782.7L1805.0 796.8L1805.5 810.3L1806.0 824.2L1806.5 839.1L1807.0 856.0L1807.5 877.2L1808.0 900.0L1808.5 922.3L1809.0 944.7L1809.5 964.6L1810.0 980.7L1810.5 995.3L1811.0 1008.8L1811.5 1021.2L1812.0 1032.5L1812.5 1042.5L1813.0 1051.4L1813.5 1059.5L1814.0 1067.1L1814.5 1074.2L1815.0 1081.0L1815.5 1087.2L1816.0 1092.9L1816.5 1098.2L1817.0 1102.9L1817.5 1107.1L1818.0 1110.8L1818.5 1114.3L1819.0 1117.7L1819.5 1120.9L1820.0 1123.9L1820.5 1126.7L1821.0 1129.3L1821.5 1131.7L1822.0 1133.8L1822.5 1135.7L1823.0 1137.2L1823.5 1138.5L1824.0 1139.7L1824.5 1140.7L1825.0 1141.6L1825.5 1142.5L1826.0 1143.3L1826.5 1144.0L1827.0 1144.7L1827.5 1145.3L1828.0 1146.0L1828.5 1146.5L1829.0 1147.1L1829.5 1147.7L1830.0 1148.3L1830.5 1148.9L1831.0 1149.6L1831.5 1150.3L1832.0 1151.0L1832.5 1151.8L1833.0 1152.7L1833.5 1153.6L1834.0 1154.6L1834.5 1155.6L1835.0 1156.7L1835.5 1157.7L1836.0 1158.8L1836.5 1159.9L1837.0 1161.0L1837.5 1162.0L1838.0 1163.0L1838.5 1164.0L1839.0 1165.0L1839.5 1165.9L1840.0 1166.8L1840.5 1167.8L1841.0 1168.8L1841.5 1169.8L1842.0 1170.8L1842.5 1171.9L1843.0 1172.9L1843.5 1173.9L1844.0 1174.9L1844.5 1175.9L1845.0 1176.8L1845.5 1177.7L1846.0 1178.5L1846.5 1179.2L1847.0 1179.9L1847.5 1180.5L1848.0 1181.0L1848.5 1181.3L1849.0 1181.6L1849.5 1181.7L1850.0 1181.7L1850.5 1181.6L1851.0 1181.3L1851.5 1181.0L1852.0 1180.7L1852.5 1180.2L1853.0 1179.7L1853.5 1179.1L1854.0 1178.4L1854.5 1177.8L1855.0 1177.1L1855.5 1176.3L1856.0 1175.6L1856.5 1174.8L1857.0 1174.1L1857.5 1173.3L1858.0 1172.6L1858.5 1171.9L1859.0 1171.2L1859.5 1170.6L1860.0 1170.0L1860.5 1169.4L1861.0 1168.8L1861.5 1168.2L1862.0 1167.5L1862.5 1166.8L1863.0 1166.1L1863.5 1165.3L1864.0 1164.6L1864.5 1163.9L1865.0 1163.2L1865.5 1162.6L1866.0 1161.9L1866.5 1161.3L1867.0 1160.8L1867.5 1160.3L1868.0 1159.9L1868.5 1159.5L1869.0 1159.2L1869.5 1159.0L1870.0 1158.9L1870.5 1158.9L1871.0 1159.4L1871.5 1160.4L1872.0 1161.8L1872.5 1163.5L1873.0 1165.4L1873.5 1167.4L1874.0 1169.6L1874.5 1171.7L1875.0 1173.6L1875.5 1175.5L1876.0 1177.0L1876.5 1178.5L1877.0 1180.0L1877.5 1181.6L1878.0 1183.3L1878.5 1184.8L1879.0 1186.4L1879.5 1187.7L1880.0 1188.9L1880.5 1189.9L1881.0 1190.5L1881.5 1190.9L1882.0 1190.9L1882.5 1190.7L1883.0 1190.5L1883.5 1190.2L1884.0 1189.7L1884.5 1189.2L1885.0 1188.7L1885.5 1188.1L1886.0 1187.4L1886.5 1186.8L1887.0 1186.1L1887.5 1185.4L1888.0 1184.8L1888.5 1184.2L1889.0 1183.6L1889.5 1183.1L1890.0 1182.6L1890.5 1182.2L1891.0 1181.9L1891.5 1181.8L1892.0 1181.7L1892.5 1181.7L1893.0 1181.8L1893.5 1181.8L1894.0 1181.9L1894.5 1182.1L1895.0 1182.2L1895.5 1182.4L1896.0 1182.7L1896.5 1183.0L1897.0 1183.3L1897.5 1183.6L1898.0 1184.0L1898.5 1184.5L1899.0 1184.9L1899.5 1185.4L1900.0 1186.0" stroke="rgb(0,24,192)" stroke-opacity="0.75" stroke-width="6"/>
</g>
<g fill="none">
<line x1="271" y1="27.5" x2="1898.5" y2="27.5" stroke="#000" stroke-width="5"/>
<line x1="271.5" y1="1320.5" x2="1898.5" y2="1320.5" stroke="#000" stroke-width="5"/>
<line x1="285.25" y1="25" x2="285.25" y2="1323" stroke="#000" stroke-width="5.5"/>
<line x1="1896.0" y1="25" x2="1896.0" y2="1331" stroke="#000" stroke-width="5.5"/>
<line x1="337.2" y1="1320.5" x2="337.2" y2="1345" stroke="#000" stroke-width="5.5"/><line x1="683.8" y1="1320.5" x2="683.8" y2="1345" stroke="#000" stroke-width="5.5"/><line x1="1030.2" y1="1320.5" x2="1030.2" y2="1345" stroke="#000" stroke-width="5.5"/><line x1="1376.6" y1="1320.5" x2="1376.6" y2="1345" stroke="#000" stroke-width="5.5"/><line x1="1721.8" y1="1320.5" x2="1721.8" y2="1345" stroke="#000" stroke-width="5.5"/><line x1="510.5" y1="1320.5" x2="510.5" y2="1332" stroke="#000" stroke-width="4"/><line x1="857.0" y1="1320.5" x2="857.0" y2="1332" stroke="#000" stroke-width="4"/><line x1="1203.4" y1="1320.5" x2="1203.4" y2="1332" stroke="#000" stroke-width="4"/><line x1="1549.2" y1="1320.5" x2="1549.2" y2="1332" stroke="#000" stroke-width="4"/><line x1="258" y1="1213.5" x2="285.2" y2="1213.5" stroke="#000" stroke-width="5"/><line x1="258" y1="998.1" x2="285.2" y2="998.1" stroke="#000" stroke-width="5"/><line x1="258" y1="782.6" x2="285.2" y2="782.6" stroke="#000" stroke-width="5"/><line x1="258" y1="567.2" x2="285.2" y2="567.2" stroke="#000" stroke-width="5"/><line x1="258" y1="351.7" x2="285.2" y2="351.7" stroke="#000" stroke-width="5"/><line x1="258" y1="136.3" x2="285.2" y2="136.3" stroke="#000" stroke-width="5"/><line x1="271.5" y1="1321.2" x2="285.2" y2="1321.2" stroke="#000" stroke-width="4"/><line x1="271.5" y1="1105.8" x2="285.2" y2="1105.8" stroke="#000" stroke-width="4"/><line x1="271.5" y1="890.3" x2="285.2" y2="890.3" stroke="#000" stroke-width="4"/><line x1="271.5" y1="674.9" x2="285.2" y2="674.9" stroke="#000" stroke-width="4"/><line x1="271.5" y1="459.5" x2="285.2" y2="459.5" stroke="#000" stroke-width="4"/><line x1="271.5" y1="244.0" x2="285.2" y2="244.0" stroke="#000" stroke-width="4"/><line x1="271.5" y1="28.6" x2="285.2" y2="28.6" stroke="#000" stroke-width="4"/>
</g>
<text x="244.8" y="1234.8" text-anchor="end" class="tk">0.0</text><text x="244.8" y="1019.4" text-anchor="end" class="tk">0.2</text><text x="244.8" y="803.9" text-anchor="end" class="tk">0.4</text><text x="244.8" y="588.5" text-anchor="end" class="tk">0.6</text><text x="244.8" y="373.0" text-anchor="end" class="tk">0.8</text><text x="244.8" y="157.6" text-anchor="end" class="tk">1.0</text>
<text x="335.9" y="1420.5" text-anchor="middle" class="tk">333</text><text x="682.7" y="1420.5" text-anchor="middle" class="tk">334</text><text x="1029.7" y="1420.5" text-anchor="middle" class="tk">335</text><text x="1375.7" y="1420.5" text-anchor="middle" class="tk">336</text><text x="1722.0" y="1420.5" text-anchor="middle" class="tk">337</text>
<text x="1037.4" y="1524.5" text-anchor="middle" class="lab">wavelength/nm</text>
<text transform="translate(78 632) rotate(-90)" text-anchor="middle" class="lab">normalized intensity/a.u.</text>
<line x1="337" y1="106.3" x2="479" y2="106.3" stroke="rgb(0,24,192)" stroke-opacity="0.75" stroke-width="5"/>
<line x1="337" y1="189.5" x2="479" y2="189.5" stroke="#cc0000" stroke-width="8.5" stroke-dasharray="23 16.3"/>
<text x="493" y="129.6" class="leg">experiment</text>
<text x="493" y="214" class="leg"><tspan letter-spacing="-0.3">simulation </tspan>T<tspan class="sub" dy="17.6">rot</tspan><tspan dy="-17.6">=2100K</tspan></text>
</svg>
</body></html>
